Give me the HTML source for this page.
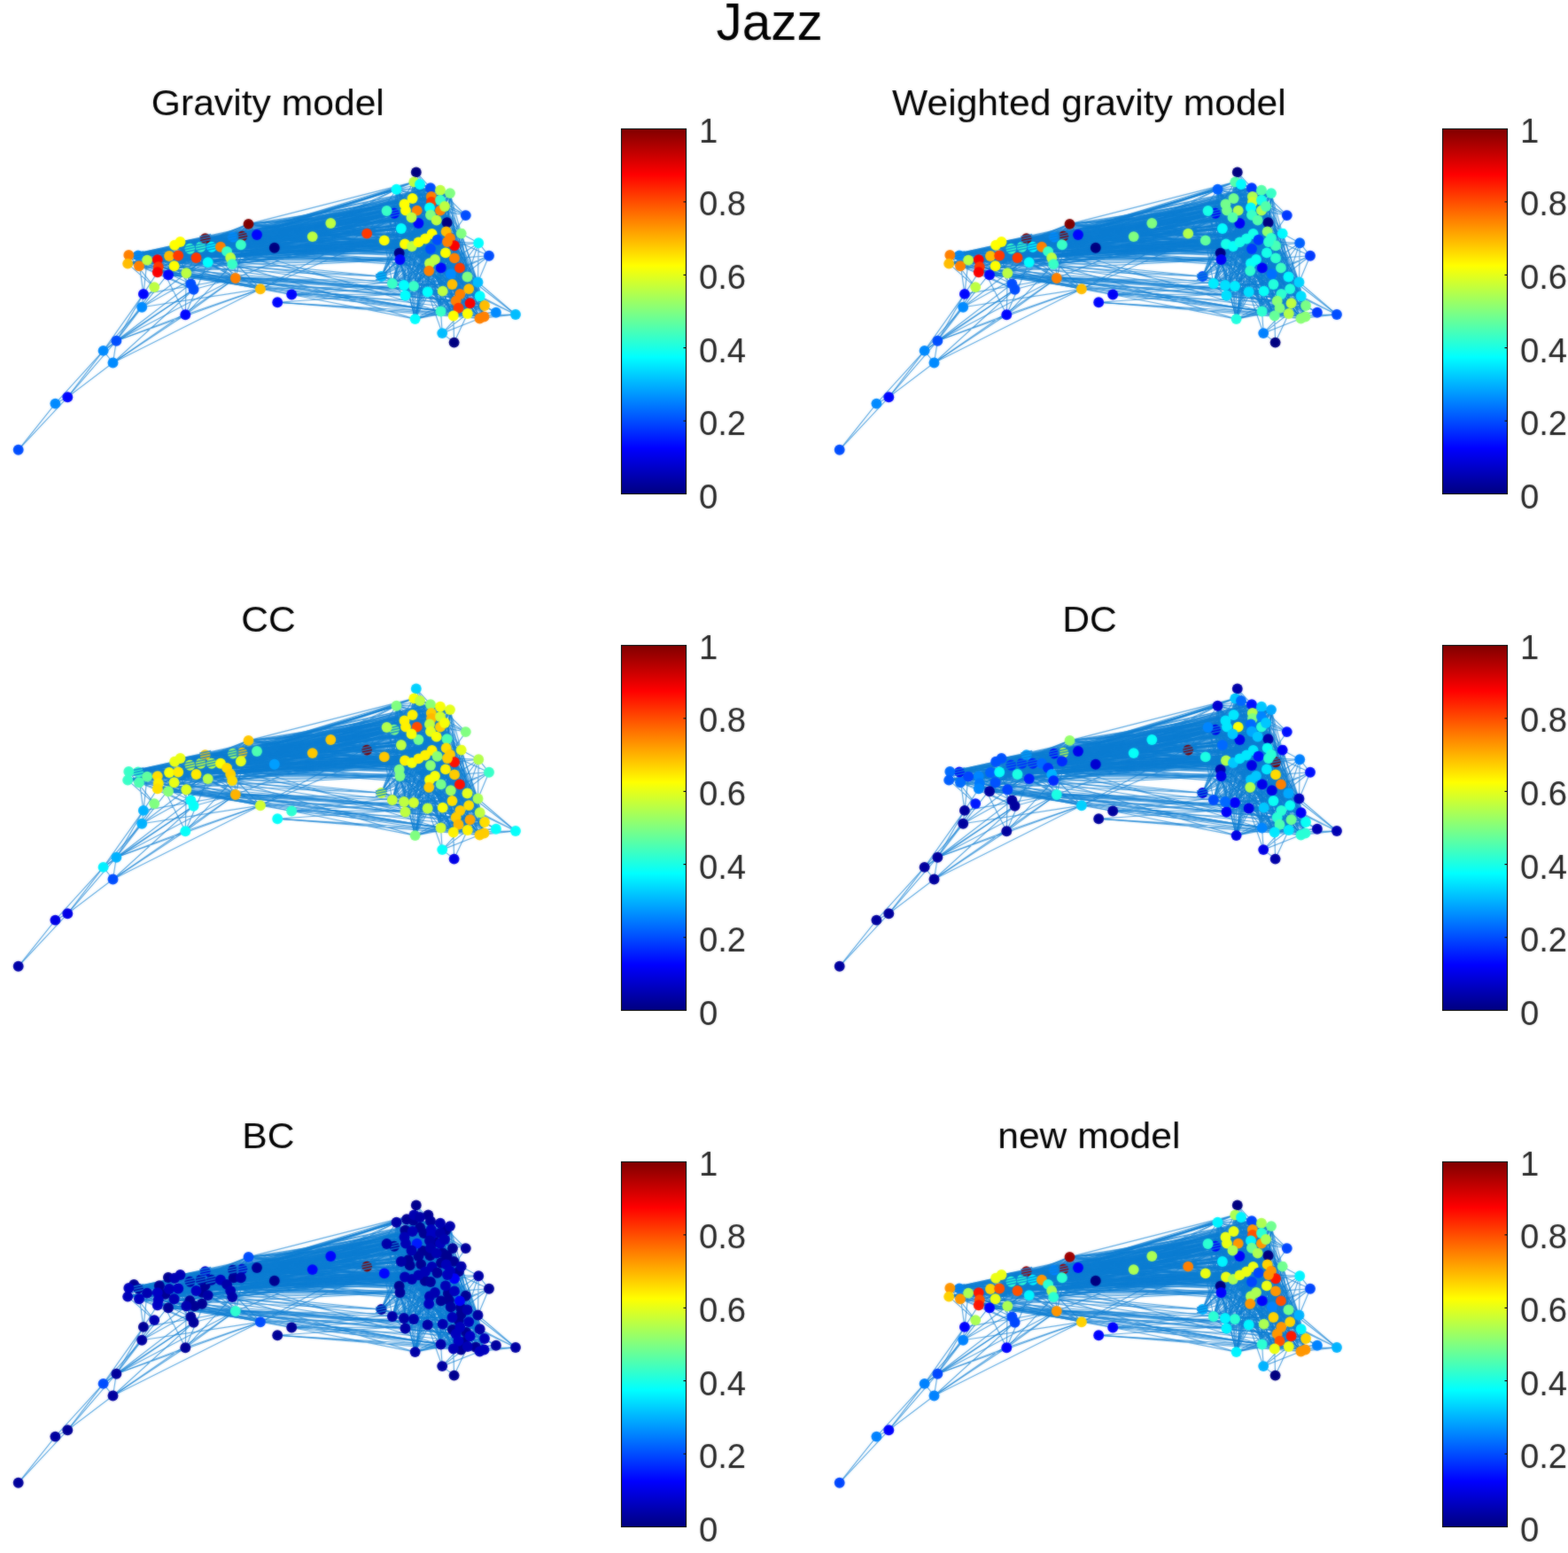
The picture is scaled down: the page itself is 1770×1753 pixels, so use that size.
<!DOCTYPE html>
<html lang="en"><head><meta charset="utf-8"><title>Jazz</title>
<style>html,body{margin:0;padding:0;background:#fff}svg{display:block}text{font-family:"Liberation Sans",Arial,Helvetica,sans-serif}</style></head><body>
<svg width="1770" height="1753" viewBox="0 0 1770 1753">
<defs>
<linearGradient id="jet" x1="0" y1="0" x2="0" y2="1"><stop offset="0.0000" stop-color="#800000"/><stop offset="0.0625" stop-color="#bf0000"/><stop offset="0.1250" stop-color="#ff0000"/><stop offset="0.1875" stop-color="#ff4000"/><stop offset="0.2500" stop-color="#ff8000"/><stop offset="0.3125" stop-color="#ffbf00"/><stop offset="0.3750" stop-color="#ffff00"/><stop offset="0.4375" stop-color="#bfff40"/><stop offset="0.5000" stop-color="#80ff80"/><stop offset="0.5625" stop-color="#40ffbf"/><stop offset="0.6250" stop-color="#00ffff"/><stop offset="0.6875" stop-color="#00bfff"/><stop offset="0.7500" stop-color="#0080ff"/><stop offset="0.8125" stop-color="#0040ff"/><stop offset="0.8750" stop-color="#0000ff"/><stop offset="0.9375" stop-color="#0000bf"/><stop offset="1.0000" stop-color="#000080"/></linearGradient>
<g id="edges" fill="none" stroke="#0a7cd2" stroke-opacity="0.68" stroke-width="1.15">
<path d="M76.3 448.3L116.6 395.9M131.4 384.7L160.2 346.8M131.4 384.7L218.6 326.8M131.4 384.7L174.2 324.1M161.9 331.9L177.8 307.3M215.4 320.5L145.3 288.0M145.3 288.0L465.6 224.0M145.3 288.0L487.6 264.0M145.3 288.0L457.0 275.5M144.2 297.6L231.7 269.2M144.2 297.6L293.9 326.2M144.2 297.6L414.2 263.6M144.2 297.6L470.7 237.6M155.9 288.5L249.0 278.8M155.9 288.5L433.8 271.4M155.9 288.5L497.0 214.7M155.9 288.5L497.0 226.0M157.0 300.2L178.8 301.2M157.0 300.2L177.8 307.3M166.1 293.6L178.8 301.2M177.8 293.1L262.2 298.1M178.8 301.2L231.7 269.2M178.8 301.2L329.2 332.5M178.8 301.2L203.5 273.0M177.8 307.3L457.5 333.5M177.8 307.3L546.5 357.5M197.1 276.8L231.7 269.2M197.1 276.8L238.8 278.8M197.1 276.8L373.3 252.0M197.1 276.8L450.7 285.8M197.1 276.8L465.0 278.0M191.0 289.0L238.8 278.8M191.0 289.0L290.0 265.0M191.0 289.0L497.0 237.6M191.0 289.0L513.0 277.2M191.0 289.0L502.9 285.4M191.0 289.0L486.0 281.0M201.2 288.5L210.3 308.3M201.2 288.5L249.0 278.8M201.2 288.5L480.0 269.5M196.6 300.2L238.8 278.8M196.6 300.2L290.0 265.0M196.6 300.2L541.5 359.5M190.0 310.3L265.8 314.0M210.3 308.3L231.7 269.2M214.4 280.8L486.8 222.0M214.4 280.8L520.7 263.6M221.5 291.0L234.7 296.1M221.5 291.0L487.6 264.0M221.5 291.0L486.0 281.0M226.6 278.8L271.9 276.3M234.7 296.1L352.7 267.1M238.8 278.8L273.4 266.6M238.8 278.8L465.6 224.0M249.0 278.8L433.8 271.4M249.0 278.8L452.9 258.0M249.0 278.8L480.0 269.5M256.1 283.9L280.5 252.9M256.1 283.9L445.0 240.8M260.2 291.0L464.5 245.5M273.4 266.6L414.2 263.6M273.4 266.6L445.0 240.8M290.0 265.0L497.0 214.7M309.8 279.8L470.7 237.6M309.8 279.8L493.6 270.7M293.9 326.2L458.0 237.6M329.2 332.5L508.8 309.2M329.2 332.5L467.0 323.0M352.7 267.1L486.8 222.0M352.7 267.1L263.0 267.6M373.3 252.0L203.5 273.0M414.2 263.6L480.0 269.5M433.8 271.4L486.0 242.7M433.8 271.4L484.2 305.8M436.6 238.0L450.7 285.8M436.6 238.0L487.0 228.0M436.6 238.0L514.7 339.7M436.6 238.0L517.5 347.8M436.6 238.0L456.5 230.5M436.6 238.0L464.5 245.5M445.0 240.8L450.7 285.8M445.0 240.8L486.0 212.2M445.0 240.8L529.2 326.1M447.5 213.8L450.7 285.8M447.5 213.8L486.8 222.0M447.5 213.8L472.4 252.0M447.5 213.8L457.0 275.5M447.5 213.8L527.5 312.5M447.5 213.8L529.2 326.1M447.5 213.8L547.0 345.0M450.7 285.8L452.9 258.0M452.9 258.0L485.0 234.5M452.9 258.0L472.4 252.0M452.9 258.0L485.0 297.3M452.9 258.0L547.0 345.0M452.9 258.0L497.0 226.0M467.3 205.4L520.7 263.6M467.3 205.4L484.2 305.8M474.0 208.0L497.0 214.7M474.0 208.0L486.8 222.0M486.0 212.2L465.0 278.0M486.0 212.2L505.0 273.0M497.0 214.7L546.5 357.5M497.0 214.7L203.5 273.0M497.0 214.7L480.0 269.5M508.0 218.1L458.0 237.6M508.0 218.1L485.0 234.5M508.0 218.1L520.7 263.6M465.6 224.0L513.0 291.4M465.6 224.0L456.5 230.5M465.6 224.0L464.5 245.5M465.6 224.0L502.0 233.0M486.8 222.0L470.7 237.6M486.8 222.0L497.0 237.6M486.8 222.0L484.2 305.8M486.8 222.0L530.6 342.2M486.8 222.0L430.5 312.0M487.0 228.0L472.4 273.4M487.0 228.0L513.0 291.4M487.0 228.0L527.5 312.5M487.0 228.0L464.5 245.5M487.0 228.0L497.0 226.0M458.0 237.6L470.7 237.6M458.0 237.6L497.0 237.6M470.7 237.6L492.7 248.6M470.7 237.6L493.6 270.7M470.7 237.6L430.5 312.0M485.0 234.5L457.0 275.5M485.0 234.5L530.6 342.2M497.0 237.6L457.0 275.5M497.0 237.6L456.0 322.0M486.0 242.7L465.0 278.0M486.0 242.7L502.0 233.0M492.7 248.6L472.4 273.4M492.7 248.6L546.5 357.5M525.8 243.1L502.0 233.0M472.4 252.0L547.0 345.0M504.6 251.2L493.6 270.7M487.6 264.0L510.5 321.0M487.6 264.0L499.7 328.6M487.6 264.0L468.6 360.1M508.0 268.7L480.0 269.5M520.7 263.6L484.2 305.8M520.7 263.6L547.0 345.0M457.0 275.5L513.0 291.4M457.0 275.5L263.0 267.6M465.0 278.0L472.4 273.4M465.0 278.0L517.5 347.8M465.0 278.0L430.5 312.0M472.4 273.4L486.0 281.0M472.4 273.4L497.0 226.0M493.6 270.7L497.0 226.0M513.0 277.2L497.6 351.5M513.0 277.2L468.6 360.1M502.9 285.4L484.2 305.8M502.9 285.4L464.5 245.5M513.0 291.4L527.5 312.5M491.0 293.0L457.5 333.5M484.2 305.8L467.0 323.0M484.2 305.8L514.7 339.7M519.0 302.4L527.8 354.0M508.8 309.2L480.0 269.5M510.5 321.0L442.9 320.0M457.5 333.5L514.7 339.7M519.3 332.0L456.5 230.5M519.3 332.0L480.0 269.5M519.3 332.0L502.0 233.0M529.2 326.1L505.0 273.0M541.7 334.2L468.6 360.1M547.0 345.0L527.8 354.0M547.0 345.0L468.6 360.1M547.0 345.0L430.5 312.0M517.5 347.8L497.6 351.5M517.5 347.8L497.0 226.0M511.8 356.5L559.9 352.8M541.5 359.5L451.5 293.0M541.5 359.5L486.0 281.0"/>
<path d="M76.3 448.3L127.5 409.5M131.4 384.7L161.9 331.9M161.9 331.9L166.1 293.6M145.3 288.0L144.2 297.6M145.3 288.0L197.1 276.8M145.3 288.0L221.5 291.0M145.3 288.0L256.1 283.9M145.3 288.0L290.0 265.0M145.3 288.0L472.4 252.0M144.2 297.6L352.7 267.1M144.2 297.6L373.3 252.0M144.2 297.6L480.0 269.5M166.1 293.6L177.8 293.1M166.1 293.6L487.0 228.0M166.1 293.6L458.0 237.6M166.1 293.6L472.4 273.4M177.8 293.1L234.7 296.1M177.8 293.1L458.0 237.6M177.8 307.3L290.0 265.0M177.8 307.3L499.7 328.6M197.1 276.8L273.4 266.6M197.1 276.8L486.8 222.0M197.1 276.8L456.5 230.5M197.1 276.8L480.0 269.5M191.0 289.0L464.5 245.5M201.2 288.5L231.7 269.2M201.2 288.5L262.2 298.1M201.2 288.5L436.6 238.0M201.2 288.5L456.5 230.5M196.6 300.2L214.4 280.8M190.0 310.3L514.7 339.7M210.3 308.3L263.0 267.6M214.4 280.8L290.0 265.0M214.4 280.8L445.0 240.8M214.4 280.8L465.6 224.0M214.4 280.8L472.4 273.4M214.4 280.8L513.0 277.2M221.5 291.0L486.0 242.7M221.5 291.0L457.0 275.5M221.5 291.0L263.0 267.6M226.6 278.8L256.1 283.9M226.6 278.8L260.2 291.0M226.6 278.8L447.5 213.8M226.6 278.8L497.0 226.0M231.7 269.2L465.6 224.0M238.8 278.8L373.3 252.0M238.8 278.8L492.7 248.6M249.0 278.8L487.0 228.0M249.0 278.8L486.0 242.7M249.0 278.8L465.0 278.0M249.0 278.8L451.5 293.0M256.1 283.9L485.0 234.5M256.1 283.9L486.0 281.0M256.1 283.9L480.0 269.5M260.2 291.0L293.9 326.2M260.2 291.0L486.0 212.2M260.2 291.0L503.7 261.4M260.2 291.0L472.4 273.4M262.2 298.1L467.0 323.0M262.2 298.1L468.6 360.1M271.9 276.3L485.0 234.5M271.9 276.3L504.6 251.2M271.9 276.3L263.0 267.6M273.4 266.6L487.6 264.0M273.4 266.6L502.9 285.4M280.5 252.9L265.8 314.0M280.5 252.9L352.7 267.1M280.5 252.9L436.6 238.0M309.8 279.8L263.0 267.6M293.9 326.2L510.5 321.0M313.2 341.3L546.5 357.5M329.2 332.5L527.8 354.0M352.7 267.1L472.4 273.4M352.7 267.1L464.5 245.5M373.3 252.0L447.5 213.8M373.3 252.0L513.0 291.4M414.2 263.6L474.0 208.0M414.2 263.6L504.6 251.2M436.6 238.0L497.0 237.6M445.0 240.8L492.7 248.6M445.0 240.8L497.8 302.4M445.0 240.8L457.5 333.5M447.5 213.8L497.0 214.7M447.5 213.8L470.7 237.6M447.5 213.8L504.6 251.2M447.5 213.8L493.6 270.7M450.7 285.8L470.7 237.6M450.7 285.8L465.0 278.0M452.9 258.0L508.0 268.7M452.9 258.0L457.0 275.5M452.9 258.0L502.0 233.0M469.8 194.4L486.0 212.2M467.3 205.4L486.0 212.2M467.3 205.4L485.0 234.5M467.3 205.4L497.8 302.4M474.0 208.0L486.0 212.2M474.0 208.0L465.6 224.0M474.0 208.0L487.0 228.0M474.0 208.0L504.6 251.2M474.0 208.0L508.0 268.7M474.0 208.0L499.7 328.6M486.0 212.2L465.6 224.0M486.0 212.2L503.7 261.4M486.0 212.2L519.0 302.4M486.0 212.2L527.8 354.0M486.0 212.2L203.5 273.0M497.0 214.7L485.0 234.5M497.0 214.7L464.5 245.5M508.0 218.1L457.5 333.5M508.0 218.1L464.5 245.5M486.8 222.0L203.5 273.0M458.0 237.6L493.6 270.7M458.0 237.6L502.9 285.4M470.7 237.6L485.0 297.3M470.7 237.6L457.5 333.5M470.7 237.6L530.6 342.2M497.0 237.6L499.7 328.6M497.0 237.6L517.5 347.8M497.0 237.6L511.8 356.5M497.0 237.6L468.6 360.1M497.0 237.6L456.5 230.5M492.7 248.6L456.5 230.5M472.4 252.0L520.7 263.6M472.4 252.0L513.0 277.2M472.4 252.0L457.5 333.5M472.4 252.0L505.0 273.0M504.6 251.2L503.7 261.4M487.6 264.0L527.8 354.0M487.6 264.0L464.5 245.5M503.7 261.4L502.9 285.4M508.0 268.7L520.7 263.6M508.0 268.7L505.0 273.0M520.7 263.6L442.9 320.0M520.7 263.6L464.5 245.5M457.0 275.5L519.3 332.0M457.0 275.5L464.5 245.5M465.0 278.0L513.0 277.2M472.4 273.4L513.0 291.4M472.4 273.4L514.7 339.7M472.4 273.4L430.5 312.0M493.6 270.7L451.5 293.0M493.6 270.7L456.0 322.0M493.6 270.7L486.0 281.0M493.6 270.7L505.0 273.0M513.0 277.2L513.0 291.4M513.0 277.2L514.7 339.7M513.0 277.2L263.0 267.6M502.9 285.4L442.9 320.0M502.9 285.4L541.7 334.2M491.0 293.0L514.7 339.7M484.2 305.8L457.5 333.5M497.8 302.4L547.0 345.0M497.8 302.4L502.0 233.0M519.0 302.4L451.5 293.0M527.5 312.5L480.0 269.5M510.5 321.0L499.7 328.6M510.5 321.0L527.8 354.0M510.5 321.0L541.5 359.5M510.5 321.0L582.0 355.0M499.7 328.6L529.2 326.1M499.7 328.6L456.5 230.5M482.7 329.5L467.0 323.0M467.0 323.0L442.9 320.0M467.0 323.0L457.5 333.5M467.0 323.0L480.0 269.5M442.9 320.0L451.5 293.0M514.7 339.7L517.5 347.8M514.7 339.7L505.0 273.0M530.6 342.2L497.6 351.5M530.6 342.2L505.0 273.0M541.7 334.2L497.6 351.5M541.7 334.2L582.0 355.0M541.7 334.2L430.5 312.0M547.0 345.0L511.8 356.5M517.5 347.8L511.8 356.5M497.6 351.5L468.6 360.1M497.6 351.5L497.0 226.0M541.5 359.5L499.2 376.1M430.5 312.0L480.0 269.5M451.5 293.0L480.0 269.5M486.0 281.0L464.5 245.5M456.5 230.5L502.0 233.0M480.0 269.5L497.0 226.0"/>
<path d="M20.7 507.8L76.3 448.3M116.6 395.9L131.4 384.7M116.6 395.9L161.9 331.9M131.4 384.7L209.3 355.3M160.2 346.8L293.9 326.2M161.9 331.9L265.8 314.0M174.2 324.1L145.3 288.0M145.3 288.0L508.0 218.1M144.2 297.6L487.0 228.0M144.2 297.6L457.0 275.5M155.9 288.5L452.9 258.0M157.0 300.2L256.1 283.9M157.0 300.2L280.5 252.9M166.1 293.6L214.4 280.8M166.1 293.6L436.6 238.0M166.1 293.6L465.0 278.0M177.8 293.1L445.0 240.8M177.8 293.1L485.0 234.5M178.8 301.2L256.1 283.9M197.1 276.8L309.8 279.8M197.1 276.8L492.7 248.6M191.0 289.0L201.2 288.5M191.0 289.0L231.7 269.2M191.0 289.0L513.0 291.4M201.2 288.5L290.0 265.0M201.2 288.5L464.5 245.5M196.6 300.2L221.5 291.0M190.0 310.3L263.0 267.6M214.4 280.8L486.0 242.7M214.4 280.8L464.5 245.5M226.6 278.8L373.3 252.0M226.6 278.8L452.9 258.0M231.7 269.2L290.0 265.0M231.7 269.2L450.7 285.8M231.7 269.2L486.0 212.2M231.7 269.2L508.0 218.1M231.7 269.2L486.0 242.7M231.7 269.2L472.4 252.0M231.7 269.2L513.0 291.4M234.7 296.1L486.0 242.7M234.7 296.1L263.0 267.6M238.8 278.8L464.5 245.5M249.0 278.8L260.2 291.0M249.0 278.8L447.5 213.8M249.0 278.8L486.0 212.2M256.1 283.9L497.8 302.4M262.2 298.1L433.8 271.4M262.2 298.1L447.5 213.8M262.2 298.1L485.0 234.5M262.2 298.1L480.0 269.5M271.9 276.3L433.8 271.4M271.9 276.3L470.7 237.6M271.9 276.3L493.6 270.7M273.4 266.6L433.8 271.4M273.4 266.6L203.5 273.0M280.5 252.9L450.7 285.8M280.5 252.9L487.0 228.0M280.5 252.9L458.0 237.6M280.5 252.9L472.4 273.4M280.5 252.9L502.9 285.4M265.8 314.0L539.5 318.5M313.2 341.3L529.2 326.1M313.2 341.3L527.8 354.0M352.7 267.1L465.0 278.0M414.2 263.6L465.6 224.0M433.8 271.4L470.7 237.6M433.8 271.4L457.5 333.5M433.8 271.4L456.5 230.5M436.6 238.0L474.0 208.0M436.6 238.0L465.6 224.0M436.6 238.0L485.0 234.5M436.6 238.0L504.6 251.2M436.6 238.0L529.2 326.1M445.0 240.8L493.6 270.7M447.5 213.8L519.3 332.0M450.7 285.8L486.0 242.7M450.7 285.8L527.5 312.5M450.7 285.8L519.3 332.0M452.9 258.0L467.3 205.4M452.9 258.0L497.0 237.6M452.9 258.0L492.7 248.6M467.3 205.4L472.4 273.4M467.3 205.4L493.6 270.7M467.3 205.4L502.0 233.0M497.0 214.7L487.6 264.0M497.0 214.7L456.5 230.5M497.0 214.7L497.0 226.0M508.0 218.1L519.0 302.4M508.0 218.1L505.0 273.0M465.6 224.0L485.0 234.5M465.6 224.0L505.0 273.0M465.6 224.0L497.0 226.0M486.8 222.0L458.0 237.6M486.8 222.0L529.2 326.1M487.0 228.0L510.5 321.0M487.0 228.0L457.5 333.5M487.0 228.0L263.0 267.6M487.0 228.0L480.0 269.5M458.0 237.6L520.7 263.6M458.0 237.6L465.0 278.0M458.0 237.6L513.0 277.2M458.0 237.6L451.5 293.0M458.0 237.6L497.0 226.0M470.7 237.6L508.8 309.2M485.0 234.5L492.7 248.6M497.0 237.6L465.0 278.0M486.0 242.7L502.9 285.4M486.0 242.7L485.0 297.3M486.0 242.7L541.5 359.5M486.0 242.7L203.5 273.0M486.0 242.7L464.5 245.5M492.7 248.6L504.6 251.2M492.7 248.6L493.6 270.7M492.7 248.6L513.0 277.2M492.7 248.6L547.0 345.0M492.7 248.6L497.6 351.5M492.7 248.6L430.5 312.0M525.8 243.1L497.0 226.0M472.4 252.0L493.6 270.7M472.4 252.0L491.0 293.0M472.4 252.0L519.0 302.4M472.4 252.0L451.5 293.0M504.6 251.2L263.0 267.6M487.6 264.0L457.0 275.5M487.6 264.0L513.0 277.2M487.6 264.0L519.0 302.4M487.6 264.0L547.0 345.0M487.6 264.0L486.0 281.0M503.7 261.4L527.5 312.5M503.7 261.4L505.0 273.0M508.0 268.7L510.5 321.0M508.0 268.7L430.5 312.0M457.0 275.5L511.8 356.5M465.0 278.0L493.6 270.7M472.4 273.4L527.5 312.5M472.4 273.4L541.5 359.5M493.6 270.7L491.0 293.0M493.6 270.7L510.5 321.0M513.0 277.2L456.0 322.0M540.2 274.2L505.0 273.0M502.9 285.4L467.0 323.0M502.9 285.4L486.0 281.0M513.0 291.4L464.5 245.5M491.0 293.0L486.0 281.0M491.0 293.0L497.0 226.0M485.0 297.3L511.8 356.5M485.0 297.3L486.0 281.0M484.2 305.8L530.6 342.2M497.8 302.4L457.5 333.5M497.8 302.4L451.5 293.0M519.0 302.4L539.5 318.5M519.0 302.4L467.0 323.0M527.5 312.5L530.6 342.2M539.5 318.5L529.2 326.1M539.5 318.5L546.5 357.5M510.5 321.0L529.2 326.1M510.5 321.0L541.7 334.2M482.7 329.5L541.7 334.2M482.7 329.5L511.8 356.5M467.0 323.0L530.6 342.2M442.9 320.0L480.0 269.5M457.5 333.5L519.3 332.0M457.5 333.5L430.5 312.0M519.3 332.0L486.0 281.0M519.3 332.0L505.0 273.0M529.2 326.1L547.0 345.0M514.7 339.7L527.8 354.0M530.6 342.2L517.5 347.8M530.6 342.2L456.0 322.0M530.6 342.2L480.0 269.5M541.7 334.2L546.5 357.5M547.0 345.0L517.5 347.8M547.0 345.0L541.5 359.5M511.8 356.5L505.0 273.0M430.5 312.0L505.0 273.0M203.5 273.0L456.5 230.5M263.0 267.6L486.0 281.0M456.0 322.0L456.5 230.5"/>
<path d="M20.7 507.8L62.4 455.6M127.5 409.5L131.4 384.7M127.5 409.5L209.3 355.3M116.6 395.9L160.2 346.8M209.3 355.3L210.3 308.3M218.6 326.8L196.6 300.2M145.3 288.0L155.9 288.5M145.3 288.0L502.0 233.0M144.2 297.6L433.8 271.4M155.9 288.5L197.1 276.8M166.1 293.6L231.7 269.2M166.1 293.6L256.1 283.9M166.1 293.6L503.7 261.4M166.1 293.6L430.5 312.0M177.8 293.1L177.8 307.3M177.8 293.1L293.9 326.2M178.8 301.2L293.9 326.2M178.8 301.2L451.5 293.0M177.8 307.3L262.2 298.1M177.8 307.3L482.7 329.5M177.8 307.3L451.5 293.0M197.1 276.8L352.7 267.1M197.1 276.8L203.5 273.0M197.1 276.8L263.0 267.6M191.0 289.0L190.0 310.3M191.0 289.0L497.0 214.7M201.2 288.5L451.5 293.0M190.0 310.3L482.7 329.5M190.0 310.3L442.9 320.0M190.0 310.3L511.8 356.5M214.4 280.8L472.4 252.0M226.6 278.8L238.8 278.8M226.6 278.8L450.7 285.8M226.6 278.8L467.3 205.4M231.7 269.2L262.2 298.1M231.7 269.2L493.6 270.7M231.7 269.2L203.5 273.0M234.7 296.1L265.8 314.0M234.7 296.1L486.0 212.2M234.7 296.1L457.0 275.5M234.7 296.1L502.0 233.0M238.8 278.8L485.0 234.5M238.8 278.8L486.0 242.7M238.8 278.8L487.6 264.0M238.8 278.8L457.0 275.5M238.8 278.8L465.0 278.0M256.1 283.9L497.0 237.6M273.4 266.6L486.0 212.2M280.5 252.9L467.3 205.4M280.5 252.9L520.7 263.6M280.5 252.9L486.0 281.0M309.8 279.8L508.0 268.7M309.8 279.8L486.0 281.0M265.8 314.0L497.6 351.5M265.8 314.0L263.0 267.6M293.9 326.2L329.2 332.5M329.2 332.5L530.6 342.2M373.3 252.0L445.0 240.8M373.3 252.0L458.0 237.6M373.3 252.0L492.7 248.6M414.2 263.6L497.0 214.7M414.2 263.6L508.0 268.7M433.8 271.4L491.0 293.0M433.8 271.4L497.8 302.4M433.8 271.4L451.5 293.0M433.8 271.4L464.5 245.5M436.6 238.0L480.0 269.5M445.0 240.8L486.8 222.0M445.0 240.8L470.7 237.6M445.0 240.8L457.0 275.5M445.0 240.8L464.5 245.5M447.5 213.8L497.6 351.5M447.5 213.8L468.6 360.1M450.7 285.8L203.5 273.0M452.9 258.0L513.0 277.2M469.8 194.4L467.3 205.4M467.3 205.4L472.4 252.0M467.3 205.4L487.6 264.0M467.3 205.4L482.7 329.5M467.3 205.4L541.7 334.2M467.3 205.4L527.8 354.0M467.3 205.4L468.6 360.1M474.0 208.0L485.0 234.5M474.0 208.0L497.8 302.4M486.0 212.2L487.6 264.0M486.0 212.2L519.3 332.0M486.0 212.2L486.0 281.0M486.0 212.2L456.5 230.5M497.0 214.7L508.0 218.1M497.0 214.7L525.8 243.1M497.0 214.7L520.7 263.6M497.0 214.7L472.4 273.4M497.0 214.7L482.7 329.5M508.0 218.1L486.0 242.7M508.0 218.1L504.6 251.2M508.0 218.1L502.9 285.4M508.0 218.1L480.0 269.5M465.6 224.0L465.0 278.0M465.6 224.0L456.0 322.0M486.8 222.0L486.0 242.7M486.8 222.0L514.7 339.7M486.8 222.0L502.0 233.0M487.0 228.0L499.7 328.6M470.7 237.6L520.7 263.6M470.7 237.6L505.0 273.0M485.0 234.5L467.0 323.0M497.0 237.6L519.3 332.0M497.0 237.6L529.2 326.1M486.0 242.7L513.0 291.4M492.7 248.6L497.8 302.4M492.7 248.6L451.5 293.0M472.4 252.0L519.3 332.0M472.4 252.0L486.0 281.0M504.6 251.2L497.0 226.0M487.6 264.0L497.8 302.4M503.7 261.4L539.5 318.5M508.0 268.7L472.4 273.4M508.0 268.7L513.0 291.4M520.7 263.6L508.8 309.2M520.7 263.6L499.7 328.6M520.7 263.6L529.2 326.1M457.0 275.5L451.5 293.0M465.0 278.0L508.8 309.2M465.0 278.0L547.0 345.0M465.0 278.0L505.0 273.0M472.4 273.4L519.0 302.4M472.4 273.4L442.9 320.0M493.6 270.7L467.0 323.0M513.0 277.2L510.5 321.0M513.0 277.2L457.5 333.5M513.0 277.2L451.5 293.0M513.0 277.2L486.0 281.0M540.2 274.2L497.8 302.4M540.2 274.2L519.0 302.4M552.0 288.8L539.5 318.5M502.9 285.4L508.8 309.2M502.9 285.4L510.5 321.0M502.9 285.4L541.5 359.5M513.0 291.4L491.0 293.0M513.0 291.4L510.5 321.0M513.0 291.4L527.8 354.0M491.0 293.0L541.7 334.2M491.0 293.0L541.5 359.5M485.0 297.3L484.2 305.8M485.0 297.3L442.9 320.0M485.0 297.3L457.5 333.5M485.0 297.3L514.7 339.7M484.2 305.8L468.6 360.1M519.0 302.4L546.5 357.5M527.5 312.5L497.6 351.5M527.5 312.5L451.5 293.0M539.5 318.5L480.0 269.5M510.5 321.0L519.3 332.0M499.7 328.6L451.5 293.0M499.7 328.6L480.0 269.5M482.7 329.5L499.2 376.1M482.7 329.5L430.5 312.0M482.7 329.5L456.0 322.0M467.0 323.0L505.0 273.0M529.2 326.1L541.7 334.2M529.2 326.1L527.8 354.0M514.7 339.7L547.0 345.0M514.7 339.7L486.0 281.0M517.5 347.8L468.6 360.1M527.8 354.0L499.2 376.1M527.8 354.0L456.5 230.5M511.8 356.5L512.6 386.6M511.8 356.5L456.5 230.5M541.5 359.5L546.5 357.5M546.5 357.5L582.0 355.0M468.6 360.1L451.5 293.0M468.6 360.1L502.0 233.0M456.0 322.0L464.5 245.5"/>
<path d="M127.5 409.5L116.6 395.9M131.4 384.7L215.4 320.5M131.4 384.7L265.8 314.0M209.3 355.3L234.7 296.1M209.3 355.3L265.8 314.0M215.4 320.5L210.3 308.3M145.3 288.0L166.1 293.6M145.3 288.0L177.8 293.1M145.3 288.0L487.0 228.0M145.3 288.0L502.9 285.4M144.2 297.6L290.0 265.0M144.2 297.6L445.0 240.8M144.2 297.6L486.0 212.2M144.2 297.6L505.0 273.0M155.9 288.5L191.0 289.0M155.9 288.5L190.0 310.3M155.9 288.5L210.3 308.3M155.9 288.5L504.6 251.2M157.0 300.2L201.2 288.5M157.0 300.2L234.7 296.1M157.0 300.2L541.7 334.2M157.0 300.2L430.5 312.0M166.1 293.6L226.6 278.8M166.1 293.6L249.0 278.8M166.1 293.6L203.5 273.0M177.8 293.1L465.6 224.0M177.8 293.1L472.4 273.4M177.8 293.1L513.0 277.2M178.8 301.2L197.1 276.8M177.8 307.3L214.4 280.8M177.8 307.3L492.7 248.6M197.1 276.8L265.8 314.0M197.1 276.8L503.7 261.4M191.0 289.0L221.5 291.0M191.0 289.0L433.8 271.4M191.0 289.0L487.0 228.0M201.2 288.5L485.0 234.5M201.2 288.5L492.7 248.6M190.0 310.3L457.5 333.5M210.3 308.3L499.7 328.6M221.5 291.0L493.6 270.7M221.5 291.0L430.5 312.0M226.6 278.8L487.6 264.0M231.7 269.2L520.7 263.6M231.7 269.2L456.5 230.5M234.7 296.1L280.5 252.9M234.7 296.1L293.9 326.2M234.7 296.1L414.2 263.6M238.8 278.8L503.7 261.4M238.8 278.8L513.0 291.4M249.0 278.8L436.6 238.0M249.0 278.8L203.5 273.0M249.0 278.8L464.5 245.5M256.1 283.9L456.5 230.5M260.2 291.0L445.0 240.8M260.2 291.0L485.0 234.5M260.2 291.0L492.7 248.6M262.2 298.1L290.0 265.0M271.9 276.3L290.0 265.0M271.9 276.3L465.6 224.0M273.4 266.6L280.5 252.9M273.4 266.6L290.0 265.0M273.4 266.6L452.9 258.0M280.5 252.9L290.0 265.0M290.0 265.0L445.0 240.8M290.0 265.0L486.0 212.2M290.0 265.0L203.5 273.0M309.8 279.8L445.0 240.8M293.9 326.2L203.5 273.0M414.2 263.6L502.9 285.4M433.8 271.4L487.6 264.0M433.8 271.4L467.0 323.0M445.0 240.8L547.0 345.0M445.0 240.8L511.8 356.5M445.0 240.8L263.0 267.6M445.0 240.8L505.0 273.0M450.7 285.8L487.0 228.0M450.7 285.8L497.0 237.6M450.7 285.8L502.0 233.0M467.3 205.4L474.0 208.0M467.3 205.4L519.3 332.0M474.0 208.0L472.4 252.0M486.0 212.2L487.0 228.0M486.0 212.2L484.2 305.8M497.0 214.7L486.0 242.7M497.0 214.7L468.6 360.1M508.0 218.1L487.0 228.0M508.0 218.1L487.6 264.0M508.0 218.1L497.8 302.4M508.0 218.1L529.2 326.1M465.6 224.0L486.8 222.0M465.6 224.0L492.7 248.6M465.6 224.0L493.6 270.7M465.6 224.0L513.0 277.2M465.6 224.0L263.0 267.6M486.8 222.0L541.7 334.2M486.8 222.0L480.0 269.5M486.8 222.0L497.0 226.0M487.0 228.0L457.0 275.5M487.0 228.0L456.5 230.5M458.0 237.6L457.0 275.5M458.0 237.6L517.5 347.8M458.0 237.6L527.8 354.0M458.0 237.6L430.5 312.0M470.7 237.6L472.4 273.4M470.7 237.6L510.5 321.0M470.7 237.6L442.9 320.0M470.7 237.6L497.0 226.0M485.0 234.5L491.0 293.0M497.0 237.6L504.6 251.2M497.0 237.6L491.0 293.0M497.0 237.6L486.0 281.0M497.0 237.6L502.0 233.0M486.0 242.7L503.7 261.4M486.0 242.7L457.0 275.5M492.7 248.6L491.0 293.0M472.4 252.0L503.7 261.4M472.4 252.0L484.2 305.8M504.6 251.2L517.5 347.8M487.6 264.0L508.0 268.7M487.6 264.0L465.0 278.0M487.6 264.0L484.2 305.8M503.7 261.4L513.0 277.2M503.7 261.4L456.5 230.5M503.7 261.4L464.5 245.5M503.7 261.4L480.0 269.5M508.0 268.7L485.0 297.3M508.0 268.7L508.8 309.2M520.7 263.6L513.0 291.4M457.0 275.5L485.0 297.3M465.0 278.0L514.7 339.7M472.4 273.4L499.7 328.6M472.4 273.4L482.7 329.5M493.6 270.7L527.5 312.5M493.6 270.7L541.7 334.2M493.6 270.7L511.8 356.5M513.0 277.2L505.0 273.0M540.2 274.2L527.5 312.5M502.9 285.4L519.0 302.4M513.0 291.4L497.0 226.0M513.0 291.4L502.0 233.0M491.0 293.0L467.0 323.0M491.0 293.0L468.6 360.1M485.0 297.3L502.0 233.0M484.2 305.8L527.8 354.0M519.0 302.4L499.7 328.6M508.8 309.2L527.5 312.5M508.8 309.2L539.5 318.5M508.8 309.2L517.5 347.8M527.5 312.5L582.0 355.0M499.7 328.6L457.5 333.5M499.7 328.6L511.8 356.5M499.7 328.6L456.0 322.0M482.7 329.5L547.0 345.0M482.7 329.5L546.5 357.5M482.7 329.5L486.0 281.0M457.5 333.5L517.5 347.8M519.3 332.0L527.8 354.0M519.3 332.0L559.9 352.8M519.3 332.0L541.5 359.5M529.2 326.1L456.5 230.5M530.6 342.2L547.0 345.0M530.6 342.2L456.5 230.5M541.7 334.2L502.0 233.0M547.0 345.0L497.6 351.5M541.5 359.5L582.0 355.0M468.6 360.1L480.0 269.5M430.5 312.0L464.5 245.5M451.5 293.0L497.0 226.0M456.0 322.0L486.0 281.0M486.0 281.0L456.5 230.5"/>
<path d="M62.4 455.6L76.3 448.3M161.9 331.9L155.9 288.5M218.6 326.8L177.8 307.3M218.6 326.8L265.8 314.0M174.2 324.1L144.2 297.6M145.3 288.0L273.4 266.6M145.3 288.0L472.4 273.4M144.2 297.6L497.0 237.6M144.2 297.6L486.0 242.7M144.2 297.6L508.0 268.7M155.9 288.5L234.7 296.1M155.9 288.5L265.8 314.0M155.9 288.5L487.0 228.0M155.9 288.5L470.7 237.6M155.9 288.5L472.4 252.0M157.0 300.2L191.0 289.0M157.0 300.2L238.8 278.8M157.0 300.2L271.9 276.3M157.0 300.2L290.0 265.0M157.0 300.2L293.9 326.2M166.1 293.6L352.7 267.1M166.1 293.6L504.6 251.2M166.1 293.6L487.6 264.0M166.1 293.6L513.0 291.4M177.8 293.1L414.2 263.6M177.8 293.1L486.8 222.0M177.8 293.1L470.7 237.6M177.8 293.1L456.5 230.5M177.8 307.3L234.7 296.1M197.1 276.8L486.0 242.7M197.1 276.8L519.0 302.4M191.0 289.0L472.4 273.4M201.2 288.5L280.5 252.9M201.2 288.5L414.2 263.6M201.2 288.5L447.5 213.8M201.2 288.5L497.0 237.6M201.2 288.5L263.0 267.6M196.6 300.2L271.9 276.3M196.6 300.2L263.0 267.6M190.0 310.3L214.4 280.8M210.3 308.3L234.7 296.1M210.3 308.3L249.0 278.8M214.4 280.8L497.0 214.7M221.5 291.0L352.7 267.1M226.6 278.8L273.4 266.6M226.6 278.8L465.0 278.0M226.6 278.8L457.5 333.5M231.7 269.2L511.8 356.5M234.7 296.1L472.4 252.0M234.7 296.1L530.6 342.2M249.0 278.8L467.3 205.4M249.0 278.8L505.0 273.0M256.1 283.9L271.9 276.3M256.1 283.9L486.0 212.2M256.1 283.9L497.0 214.7M256.1 283.9L203.5 273.0M260.2 291.0L508.0 218.1M260.2 291.0L465.6 224.0M260.2 291.0L520.7 263.6M260.2 291.0L456.5 230.5M262.2 298.1L486.0 242.7M262.2 298.1L505.0 273.0M271.9 276.3L497.8 302.4M273.4 266.6L508.0 218.1M273.4 266.6L458.0 237.6M273.4 266.6L520.7 263.6M290.0 265.0L452.9 258.0M290.0 265.0L502.9 285.4M329.2 332.5L519.3 332.0M352.7 267.1L487.0 228.0M352.7 267.1L470.7 237.6M352.7 267.1L492.7 248.6M352.7 267.1L504.6 251.2M352.7 267.1L497.0 226.0M373.3 252.0L457.0 275.5M433.8 271.4L508.0 268.7M433.8 271.4L520.7 263.6M433.8 271.4L472.4 273.4M433.8 271.4L442.9 320.0M436.6 238.0L468.6 360.1M445.0 240.8L513.0 277.2M445.0 240.8L519.0 302.4M447.5 213.8L467.3 205.4M447.5 213.8L474.0 208.0M447.5 213.8L486.0 212.2M447.5 213.8L546.5 357.5M447.5 213.8L263.0 267.6M447.5 213.8L502.0 233.0M450.7 285.8L484.2 305.8M450.7 285.8L442.9 320.0M450.7 285.8L514.7 339.7M450.7 285.8L497.0 226.0M452.9 258.0L472.4 273.4M452.9 258.0L456.5 230.5M452.9 258.0L464.5 245.5M469.8 194.4L486.8 222.0M467.3 205.4L546.5 357.5M474.0 208.0L541.7 334.2M486.0 212.2L482.7 329.5M486.0 212.2L442.9 320.0M486.0 212.2L497.6 351.5M486.0 212.2L480.0 269.5M486.0 212.2L497.0 226.0M497.0 214.7L504.6 251.2M497.0 214.7L510.5 321.0M508.0 218.1L465.0 278.0M465.6 224.0L458.0 237.6M465.6 224.0L472.4 273.4M465.6 224.0L467.0 323.0M465.6 224.0L451.5 293.0M486.8 222.0L465.0 278.0M486.8 222.0L493.6 270.7M486.8 222.0L541.5 359.5M487.0 228.0L465.0 278.0M487.0 228.0L203.5 273.0M458.0 237.6L508.0 268.7M458.0 237.6L539.5 318.5M458.0 237.6L486.0 281.0M470.7 237.6L513.0 291.4M470.7 237.6L497.6 351.5M485.0 234.5L486.0 242.7M485.0 234.5L508.0 268.7M485.0 234.5L468.6 360.1M497.0 237.6L486.0 242.7M472.4 252.0L539.5 318.5M472.4 252.0L527.8 354.0M472.4 252.0L502.0 233.0M504.6 251.2L465.0 278.0M504.6 251.2L513.0 277.2M487.6 264.0L485.0 297.3M503.7 261.4L465.0 278.0M503.7 261.4L508.8 309.2M503.7 261.4L467.0 323.0M503.7 261.4L541.7 334.2M503.7 261.4L430.5 312.0M503.7 261.4L203.5 273.0M503.7 261.4L263.0 267.6M503.7 261.4L456.0 322.0M508.0 268.7L552.0 288.8M508.0 268.7L511.8 356.5M520.7 263.6L519.3 332.0M457.0 275.5L502.9 285.4M457.0 275.5L519.0 302.4M457.0 275.5L527.5 312.5M457.0 275.5L442.9 320.0M457.0 275.5L541.5 359.5M457.0 275.5L486.0 281.0M465.0 278.0L442.9 320.0M465.0 278.0L451.5 293.0M465.0 278.0L480.0 269.5M472.4 273.4L493.6 270.7M472.4 273.4L456.5 230.5M493.6 270.7L480.0 269.5M493.6 270.7L502.0 233.0M513.0 277.2L527.5 312.5M513.0 277.2L499.7 328.6M513.0 277.2L497.0 226.0M540.2 274.2L539.5 318.5M552.0 288.8L513.0 291.4M552.0 288.8L519.0 302.4M552.0 288.8L508.8 309.2M502.9 285.4L451.5 293.0M502.9 285.4L505.0 273.0M513.0 291.4L530.6 342.2M491.0 293.0L485.0 297.3M491.0 293.0L519.3 332.0M485.0 297.3L519.3 332.0M484.2 305.8L482.7 329.5M497.8 302.4L539.5 318.5M497.8 302.4L541.5 359.5M497.8 302.4L464.5 245.5M519.0 302.4L527.5 312.5M519.0 302.4L541.7 334.2M519.0 302.4L511.8 356.5M508.8 309.2L457.5 333.5M527.5 312.5L510.5 321.0M527.5 312.5L457.5 333.5M539.5 318.5L510.5 321.0M539.5 318.5L511.8 356.5M539.5 318.5L502.0 233.0M499.7 328.6L482.7 329.5M499.7 328.6L541.5 359.5M482.7 329.5L457.5 333.5M482.7 329.5L527.8 354.0M482.7 329.5L480.0 269.5M482.7 329.5L505.0 273.0M442.9 320.0L529.2 326.1M442.9 320.0L456.0 322.0M457.5 333.5L456.5 230.5M529.2 326.1L546.5 357.5M514.7 339.7L541.7 334.2M530.6 342.2L499.2 376.1M547.0 345.0L486.0 281.0M547.0 345.0L497.0 226.0M517.5 347.8L527.8 354.0M527.8 354.0L559.9 352.8M511.8 356.5L582.0 355.0M497.6 351.5L451.5 293.0M541.5 359.5L497.0 226.0M456.0 322.0L505.0 273.0"/>
<path d="M127.5 409.5L293.9 326.2M116.6 395.9L218.6 326.8M160.2 346.8L161.9 331.9M160.2 346.8L196.6 300.2M160.2 346.8L210.3 308.3M209.3 355.3L262.2 298.1M209.3 355.3L293.9 326.2M218.6 326.8L157.0 300.2M218.6 326.8L201.2 288.5M145.3 288.0L436.6 238.0M145.3 288.0L497.0 237.6M145.3 288.0L486.0 242.7M145.3 288.0L465.0 278.0M144.2 297.6L436.6 238.0M144.2 297.6L472.4 273.4M144.2 297.6L493.6 270.7M144.2 297.6L491.0 293.0M155.9 288.5L157.0 300.2M155.9 288.5L201.2 288.5M155.9 288.5L290.0 265.0M155.9 288.5L436.6 238.0M157.0 300.2L263.0 267.6M166.1 293.6L447.5 213.8M177.8 293.1L504.6 251.2M177.8 293.1L505.0 273.0M178.8 301.2L210.3 308.3M178.8 301.2L221.5 291.0M178.8 301.2L249.0 278.8M178.8 301.2L497.6 351.5M197.1 276.8L190.0 310.3M197.1 276.8L445.0 240.8M191.0 289.0L280.5 252.9M191.0 289.0L470.7 237.6M201.2 288.5L487.0 228.0M201.2 288.5L458.0 237.6M201.2 288.5L486.0 281.0M201.2 288.5L497.0 226.0M196.6 300.2L280.5 252.9M196.6 300.2L465.0 278.0M190.0 310.3L234.7 296.1M190.0 310.3L238.8 278.8M190.0 310.3L517.5 347.8M190.0 310.3L497.6 351.5M214.4 280.8L433.8 271.4M214.4 280.8L504.6 251.2M214.4 280.8L203.5 273.0M226.6 278.8L472.4 252.0M226.6 278.8L493.6 270.7M226.6 278.8L456.5 230.5M231.7 269.2L249.0 278.8M231.7 269.2L273.4 266.6M231.7 269.2L373.3 252.0M231.7 269.2L452.9 258.0M234.7 296.1L262.2 298.1M234.7 296.1L452.9 258.0M234.7 296.1L486.0 281.0M238.8 278.8L447.5 213.8M249.0 278.8L497.0 214.7M256.1 283.9L508.0 218.1M256.1 283.9L486.8 222.0M256.1 283.9L493.6 270.7M256.1 283.9L505.0 273.0M271.9 276.3L280.5 252.9M271.9 276.3L502.9 285.4M273.4 266.6L373.3 252.0M273.4 266.6L470.7 237.6M280.5 252.9L508.0 218.1M280.5 252.9L465.6 224.0M280.5 252.9L497.0 237.6M290.0 265.0L485.0 234.5M290.0 265.0L503.7 261.4M373.3 252.0L485.0 234.5M414.2 263.6L447.5 213.8M414.2 263.6L486.0 242.7M414.2 263.6L487.6 264.0M433.8 271.4L450.7 285.8M433.8 271.4L513.0 291.4M436.6 238.0L486.0 212.2M436.6 238.0L511.8 356.5M436.6 238.0L486.0 281.0M445.0 240.8L447.5 213.8M445.0 240.8L452.9 258.0M445.0 240.8L472.4 252.0M447.5 213.8L458.0 237.6M450.7 285.8L467.3 205.4M450.7 285.8L458.0 237.6M450.7 285.8L503.7 261.4M450.7 285.8L493.6 270.7M450.7 285.8L508.8 309.2M450.7 285.8L482.7 329.5M450.7 285.8L468.6 360.1M452.9 258.0L508.0 218.1M469.8 194.4L474.0 208.0M467.3 205.4L497.6 351.5M474.0 208.0L502.9 285.4M474.0 208.0L486.0 281.0M486.0 212.2L504.6 251.2M486.0 212.2L430.5 312.0M497.0 214.7L465.6 224.0M497.0 214.7L527.5 312.5M497.0 214.7L467.0 323.0M497.0 214.7L547.0 345.0M508.0 218.1L508.0 268.7M508.0 218.1L497.6 351.5M465.6 224.0L487.0 228.0M465.6 224.0L486.0 242.7M486.8 222.0L517.5 347.8M487.0 228.0L508.0 268.7M487.0 228.0L485.0 297.3M487.0 228.0L529.2 326.1M458.0 237.6L487.6 264.0M458.0 237.6L485.0 297.3M470.7 237.6L504.6 251.2M470.7 237.6L519.3 332.0M485.0 234.5L472.4 252.0M485.0 234.5L487.6 264.0M497.0 237.6L525.8 243.1M497.0 237.6L493.6 270.7M497.0 237.6L539.5 318.5M497.0 237.6L480.0 269.5M486.0 242.7L505.0 273.0M492.7 248.6L457.0 275.5M492.7 248.6L486.0 281.0M492.7 248.6L497.0 226.0M525.8 243.1L508.0 268.7M472.4 252.0L527.5 312.5M504.6 251.2L491.0 293.0M504.6 251.2L480.0 269.5M487.6 264.0L467.0 323.0M487.6 264.0L502.0 233.0M508.0 268.7L484.2 305.8M520.7 263.6L457.0 275.5M520.7 263.6L540.2 274.2M520.7 263.6L527.5 312.5M520.7 263.6L539.5 318.5M520.7 263.6L505.0 273.0M520.7 263.6L502.0 233.0M457.0 275.5L510.5 321.0M465.0 278.0L529.2 326.1M472.4 273.4L484.2 305.8M472.4 273.4L451.5 293.0M472.4 273.4L505.0 273.0M493.6 270.7L499.7 328.6M493.6 270.7L442.9 320.0M493.6 270.7L527.8 354.0M513.0 277.2L502.9 285.4M513.0 277.2L539.5 318.5M513.0 277.2L519.3 332.0M513.0 277.2L480.0 269.5M502.9 285.4L497.8 302.4M502.9 285.4L517.5 347.8M513.0 291.4L508.8 309.2M513.0 291.4L442.9 320.0M513.0 291.4L547.0 345.0M485.0 297.3L497.6 351.5M485.0 297.3L430.5 312.0M484.2 305.8L511.8 356.5M484.2 305.8L505.0 273.0M497.8 302.4L510.5 321.0M497.8 302.4L497.6 351.5M508.8 309.2L530.6 342.2M508.8 309.2L505.0 273.0M527.5 312.5L499.7 328.6M527.5 312.5L486.0 281.0M539.5 318.5L582.0 355.0M539.5 318.5L505.0 273.0M510.5 321.0L456.0 322.0M499.7 328.6L467.0 323.0M482.7 329.5L530.6 342.2M519.3 332.0L514.7 339.7M519.3 332.0L541.7 334.2M519.3 332.0L547.0 345.0M519.3 332.0L468.6 360.1M519.3 332.0L497.0 226.0M530.6 342.2L541.7 334.2M541.7 334.2L451.5 293.0M547.0 345.0L559.9 352.8M517.5 347.8L456.0 322.0M511.8 356.5L502.0 233.0M497.6 351.5L546.5 357.5M497.6 351.5L499.2 376.1M541.5 359.5L456.0 322.0M468.6 360.1L505.0 273.0M499.2 376.1L512.6 386.6"/>
<path d="M62.4 455.6L116.6 395.9M76.3 448.3L131.4 384.7M127.5 409.5L218.6 326.8M127.5 409.5L265.8 314.0M131.4 384.7L293.9 326.2M160.2 346.8L260.2 291.0M209.3 355.3L177.8 293.1M145.3 288.0L226.6 278.8M145.3 288.0L231.7 269.2M144.2 297.6L513.0 277.2M155.9 288.5L458.0 237.6M155.9 288.5L451.5 293.0M157.0 300.2L214.4 280.8M166.1 293.6L457.0 275.5M166.1 293.6L451.5 293.0M177.8 293.1L457.5 333.5M178.8 301.2L467.3 205.4M177.8 307.3L197.1 276.8M197.1 276.8L271.9 276.3M197.1 276.8L457.0 275.5M191.0 289.0L249.0 278.8M191.0 289.0L508.0 268.7M201.2 288.5L234.7 296.1M201.2 288.5L271.9 276.3M196.6 300.2L273.4 266.6M190.0 310.3L210.3 308.3M190.0 310.3L262.2 298.1M210.3 308.3L464.5 245.5M214.4 280.8L485.0 234.5M221.5 291.0L465.0 278.0M226.6 278.8L487.0 228.0M231.7 269.2L414.2 263.6M231.7 269.2L458.0 237.6M231.7 269.2L470.7 237.6M231.7 269.2L497.0 237.6M234.7 296.1L436.6 238.0M234.7 296.1L203.5 273.0M234.7 296.1L505.0 273.0M238.8 278.8L249.0 278.8M238.8 278.8L265.8 314.0M238.8 278.8L486.8 222.0M256.1 283.9L262.2 298.1M256.1 283.9L458.0 237.6M256.1 283.9L508.0 268.7M260.2 291.0L352.7 267.1M260.2 291.0L487.0 228.0M260.2 291.0L203.5 273.0M262.2 298.1L472.4 273.4M271.9 276.3L436.6 238.0M271.9 276.3L508.0 218.1M273.4 266.6L447.5 213.8M273.4 266.6L504.6 251.2M273.4 266.6L465.0 278.0M290.0 265.0L470.7 237.6M290.0 265.0L464.5 245.5M309.8 279.8L458.0 237.6M265.8 314.0L445.0 240.8M265.8 314.0L499.7 328.6M293.9 326.2L486.0 242.7M313.2 341.3L541.5 359.5M329.2 332.5L468.6 360.1M373.3 252.0L503.7 261.4M414.2 263.6L492.7 248.6M414.2 263.6L472.4 252.0M414.2 263.6L493.6 270.7M414.2 263.6L502.0 233.0M433.8 271.4L445.0 240.8M433.8 271.4L458.0 237.6M433.8 271.4L497.0 237.6M433.8 271.4L465.0 278.0M433.8 271.4L511.8 356.5M436.6 238.0L487.6 264.0M436.6 238.0L467.0 323.0M436.6 238.0L546.5 357.5M445.0 240.8L467.3 205.4M445.0 240.8L503.7 261.4M445.0 240.8L451.5 293.0M445.0 240.8L486.0 281.0M447.5 213.8L514.7 339.7M447.5 213.8L451.5 293.0M447.5 213.8L497.0 226.0M450.7 285.8L451.5 293.0M450.7 285.8L486.0 281.0M450.7 285.8L480.0 269.5M452.9 258.0L487.0 228.0M452.9 258.0L487.6 264.0M452.9 258.0L430.5 312.0M452.9 258.0L451.5 293.0M467.3 205.4L497.0 214.7M467.3 205.4L464.5 245.5M474.0 208.0L457.0 275.5M474.0 208.0L442.9 320.0M474.0 208.0L464.5 245.5M486.0 212.2L485.0 234.5M486.0 212.2L493.6 270.7M486.0 212.2L541.7 334.2M497.0 214.7L470.7 237.6M497.0 214.7L493.6 270.7M497.0 214.7L442.9 320.0M497.0 214.7L527.8 354.0M508.0 218.1L470.7 237.6M508.0 218.1L503.7 261.4M508.0 218.1L472.4 273.4M508.0 218.1L519.3 332.0M508.0 218.1L486.0 281.0M508.0 218.1L497.0 226.0M465.6 224.0L472.4 252.0M465.6 224.0L487.6 264.0M465.6 224.0L508.8 309.2M486.8 222.0L457.0 275.5M486.8 222.0L457.5 333.5M486.8 222.0L456.5 230.5M487.0 228.0L503.7 261.4M458.0 237.6L485.0 234.5M458.0 237.6L492.7 248.6M458.0 237.6L504.6 251.2M458.0 237.6L541.7 334.2M458.0 237.6L547.0 345.0M458.0 237.6L511.8 356.5M470.7 237.6L503.7 261.4M470.7 237.6L465.0 278.0M470.7 237.6L484.2 305.8M470.7 237.6L456.5 230.5M470.7 237.6L464.5 245.5M497.0 237.6L482.7 329.5M486.0 242.7L492.7 248.6M486.0 242.7L487.6 264.0M486.0 242.7L491.0 293.0M486.0 242.7L480.0 269.5M472.4 252.0L456.0 322.0M504.6 251.2L487.6 264.0M504.6 251.2L472.4 273.4M504.6 251.2L502.9 285.4M504.6 251.2L541.7 334.2M504.6 251.2L546.5 357.5M504.6 251.2L464.5 245.5M503.7 261.4L491.0 293.0M503.7 261.4L485.0 297.3M503.7 261.4L529.2 326.1M508.0 268.7L527.5 312.5M508.0 268.7L547.0 345.0M508.0 268.7L456.5 230.5M520.7 263.6L486.0 281.0M457.0 275.5L482.7 329.5M457.0 275.5L529.2 326.1M465.0 278.0L464.5 245.5M465.0 278.0L497.0 226.0M472.4 273.4L508.8 309.2M493.6 270.7L502.9 285.4M493.6 270.7L485.0 297.3M493.6 270.7L464.5 245.5M513.0 277.2L540.2 274.2M513.0 277.2L456.5 230.5M540.2 274.2L552.0 288.8M552.0 288.8L510.5 321.0M502.9 285.4L527.5 312.5M502.9 285.4L529.2 326.1M502.9 285.4L497.0 226.0M491.0 293.0L456.0 322.0M485.0 297.3L467.0 323.0M484.2 305.8L508.8 309.2M484.2 305.8L519.3 332.0M484.2 305.8L529.2 326.1M484.2 305.8L497.6 351.5M497.8 302.4L508.8 309.2M497.8 302.4L482.7 329.5M519.0 302.4L482.7 329.5M519.0 302.4L457.5 333.5M519.0 302.4L517.5 347.8M527.5 312.5L467.0 323.0M539.5 318.5L541.5 359.5M539.5 318.5L486.0 281.0M510.5 321.0L457.5 333.5M499.7 328.6L527.8 354.0M482.7 329.5L442.9 320.0M467.0 323.0L497.0 226.0M457.5 333.5L530.6 342.2M519.3 332.0L529.2 326.1M514.7 339.7L497.0 226.0M541.7 334.2L456.5 230.5M541.7 334.2L464.5 245.5M527.8 354.0L511.8 356.5M527.8 354.0L512.6 386.6M527.8 354.0L430.5 312.0M468.6 360.1L456.5 230.5M451.5 293.0L464.5 245.5M203.5 273.0L480.0 269.5M464.5 245.5L502.0 233.0M497.0 226.0L502.0 233.0"/>
</g>
<path id="cover" d="M225.2 267.4L238.2 264.6M225.2 270.2L238.2 267.4M225.2 273.2L238.2 270.4M266.9 264.8L279.9 262.0M266.9 267.6L279.9 264.8M266.9 270.6L279.9 267.8M220.1 277.0L233.1 274.2M220.1 279.8L233.1 277.0M220.1 282.8L233.1 280.0M232.3 277.0L245.3 274.2M232.3 279.8L245.3 277.0M232.3 282.8L245.3 280.0M207.9 279.0L220.9 276.2M207.9 281.8L220.9 279.0M207.9 284.8L220.9 282.0M149.4 286.7L162.4 283.9M149.4 289.5L162.4 286.7M149.4 292.5L162.4 289.7M438.5 239.0L451.5 236.2M438.5 241.8L451.5 239.0M438.5 244.8L451.5 242.0M256.5 265.8L269.5 263.0M256.5 268.6L269.5 265.8M256.5 271.6L269.5 268.8M424.0 310.2L437.0 307.4M424.0 313.0L437.0 310.2M424.0 316.0L437.0 313.2" fill="none" stroke="#0a80d8" stroke-opacity="0.8" stroke-width="1.7"/>
<g id="cbar"><rect x="701.5" y="145.5" width="73" height="412" fill="url(#jet)" stroke="#1a1a1a" stroke-width="1.2"/>
<path d="M774.5 475.1h-3M774.5 392.7h-3M774.5 310.3h-3M774.5 227.9h-3" stroke="#1a1a1a" stroke-width="1.2" fill="none"/></g>
<filter id="tsoft" x="0" y="0" width="1770" height="1753" filterUnits="userSpaceOnUse" color-interpolation-filters="sRGB"><feGaussianBlur stdDeviation="0.8" result="b"/><feComposite in="SourceGraphic" in2="b" operator="arithmetic" k1="0" k2="0.6" k3="0.4" k4="0"/></filter><filter id="soft" x="0" y="0" width="1770" height="1753" filterUnits="userSpaceOnUse" color-interpolation-filters="sRGB"><feGaussianBlur stdDeviation="0.8" result="b"/><feComposite in="SourceGraphic" in2="b" operator="arithmetic" k1="0" k2="0.5" k3="0.5" k4="0"/></filter>
</defs>
<rect width="100%" height="100%" fill="#fff"/>
<g filter="url(#soft)">
<g transform="translate(0.0 0.0)">
<use href="#edges"/>
<g><circle cx="155.9" cy="288.5" r="5.95" fill="#008aff"/><circle cx="214.4" cy="280.8" r="5.95" fill="#38ffc7"/><circle cx="226.6" cy="278.8" r="5.95" fill="#38ffc7"/><circle cx="231.7" cy="269.2" r="5.95" fill="#800000"/><circle cx="238.8" cy="278.8" r="5.95" fill="#00ffff"/><circle cx="273.4" cy="266.6" r="5.95" fill="#800000"/><circle cx="445.0" cy="240.8" r="5.95" fill="#0005ff"/><circle cx="430.5" cy="312.0" r="5.95" fill="#00bdff"/><circle cx="263.0" cy="267.6" r="5.95" fill="#008aff"/></g>
<use href="#cover"/>
<g><circle cx="20.7" cy="507.8" r="5.95" fill="#004dff"/><circle cx="62.4" cy="455.6" r="5.95" fill="#008aff"/><circle cx="76.3" cy="448.3" r="5.95" fill="#0005ff"/><circle cx="127.5" cy="409.5" r="5.95" fill="#008aff"/><circle cx="116.6" cy="395.9" r="5.95" fill="#008aff"/><circle cx="131.4" cy="384.7" r="5.95" fill="#004dff"/><circle cx="160.2" cy="346.8" r="5.95" fill="#008aff"/><circle cx="161.9" cy="331.9" r="5.95" fill="#0005ff"/><circle cx="209.3" cy="355.3" r="5.95" fill="#0005ff"/><circle cx="218.6" cy="326.8" r="5.95" fill="#004dff"/><circle cx="215.4" cy="320.5" r="5.95" fill="#004dff"/><circle cx="174.2" cy="324.1" r="5.95" fill="#bdff42"/><circle cx="145.3" cy="288.0" r="5.95" fill="#ff8000"/><circle cx="144.2" cy="297.6" r="5.95" fill="#ffbd00"/><circle cx="157.0" cy="300.2" r="5.95" fill="#ff8000"/><circle cx="166.1" cy="293.6" r="5.95" fill="#bdff42"/><circle cx="177.8" cy="293.1" r="5.95" fill="#fa0000"/><circle cx="178.8" cy="301.2" r="5.95" fill="#ff3800"/><circle cx="177.8" cy="307.3" r="5.95" fill="#fa0000"/><circle cx="197.1" cy="276.8" r="5.95" fill="#ffff00"/><circle cx="191.0" cy="289.0" r="5.95" fill="#ffbd00"/><circle cx="201.2" cy="288.5" r="5.95" fill="#ff3800"/><circle cx="196.6" cy="300.2" r="5.95" fill="#ffff00"/><circle cx="190.0" cy="310.3" r="5.95" fill="#0005ff"/><circle cx="210.3" cy="308.3" r="5.95" fill="#bdff42"/><circle cx="221.5" cy="291.0" r="5.95" fill="#ff3800"/><circle cx="234.7" cy="296.1" r="5.95" fill="#00ffff"/><circle cx="249.0" cy="278.8" r="5.95" fill="#ff8000"/><circle cx="256.1" cy="283.9" r="5.95" fill="#38ffc7"/><circle cx="260.2" cy="291.0" r="5.95" fill="#bdff42"/><circle cx="262.2" cy="298.1" r="5.95" fill="#38ffc7"/><circle cx="271.9" cy="276.3" r="5.95" fill="#38ffc7"/><circle cx="280.5" cy="252.9" r="5.95" fill="#800000"/><circle cx="290.0" cy="265.0" r="5.95" fill="#0005ff"/><circle cx="309.8" cy="279.8" r="5.95" fill="#000080"/><circle cx="265.8" cy="314.0" r="5.95" fill="#ff8000"/><circle cx="293.9" cy="326.2" r="5.95" fill="#ffbd00"/><circle cx="313.2" cy="341.3" r="5.95" fill="#0005ff"/><circle cx="329.2" cy="332.5" r="5.95" fill="#0005ff"/><circle cx="352.7" cy="267.1" r="5.95" fill="#bdff42"/><circle cx="373.3" cy="252.0" r="5.95" fill="#bdff42"/><circle cx="414.2" cy="263.6" r="5.95" fill="#ff3800"/><circle cx="433.8" cy="271.4" r="5.95" fill="#ffff00"/><circle cx="436.6" cy="238.0" r="5.95" fill="#38ffc7"/><circle cx="447.5" cy="213.8" r="5.95" fill="#00ffff"/><circle cx="450.7" cy="285.8" r="5.95" fill="#000080"/><circle cx="452.9" cy="258.0" r="5.95" fill="#00ffff"/><circle cx="469.8" cy="194.4" r="5.95" fill="#000080"/><circle cx="467.3" cy="205.4" r="5.95" fill="#bdff42"/><circle cx="474.0" cy="208.0" r="5.95" fill="#00ffff"/><circle cx="486.0" cy="212.2" r="5.95" fill="#004dff"/><circle cx="497.0" cy="214.7" r="5.95" fill="#bdff42"/><circle cx="508.0" cy="218.1" r="5.95" fill="#80ff80"/><circle cx="465.6" cy="224.0" r="5.95" fill="#ffff00"/><circle cx="486.8" cy="222.0" r="5.95" fill="#ff8000"/><circle cx="487.0" cy="228.0" r="5.95" fill="#ff3800"/><circle cx="458.0" cy="237.6" r="5.95" fill="#ffff00"/><circle cx="470.7" cy="237.6" r="5.95" fill="#ff8000"/><circle cx="485.0" cy="234.5" r="5.95" fill="#00ffff"/><circle cx="497.0" cy="237.6" r="5.95" fill="#ff8000"/><circle cx="486.0" cy="242.7" r="5.95" fill="#80ff80"/><circle cx="492.7" cy="248.6" r="5.95" fill="#bdff42"/><circle cx="525.8" cy="243.1" r="5.95" fill="#004dff"/><circle cx="472.4" cy="252.0" r="5.95" fill="#0005ff"/><circle cx="504.6" cy="251.2" r="5.95" fill="#000080"/><circle cx="487.6" cy="264.0" r="5.95" fill="#ffff00"/><circle cx="503.7" cy="261.4" r="5.95" fill="#ffbd00"/><circle cx="508.0" cy="268.7" r="5.95" fill="#ff8000"/><circle cx="520.7" cy="263.6" r="5.95" fill="#80ff80"/><circle cx="457.0" cy="275.5" r="5.95" fill="#ffff00"/><circle cx="465.0" cy="278.0" r="5.95" fill="#bdff42"/><circle cx="472.4" cy="273.4" r="5.95" fill="#ffff00"/><circle cx="493.6" cy="270.7" r="5.95" fill="#004dff"/><circle cx="513.0" cy="277.2" r="5.95" fill="#fa0000"/><circle cx="540.2" cy="274.2" r="5.95" fill="#00ffff"/><circle cx="552.0" cy="288.8" r="5.95" fill="#004dff"/><circle cx="502.9" cy="285.4" r="5.95" fill="#ffff00"/><circle cx="513.0" cy="291.4" r="5.95" fill="#ff8000"/><circle cx="491.0" cy="293.0" r="5.95" fill="#bdff42"/><circle cx="485.0" cy="297.3" r="5.95" fill="#bdff42"/><circle cx="484.2" cy="305.8" r="5.95" fill="#ff8000"/><circle cx="497.8" cy="302.4" r="5.95" fill="#0005ff"/><circle cx="519.0" cy="302.4" r="5.95" fill="#ff3800"/><circle cx="508.8" cy="309.2" r="5.95" fill="#008aff"/><circle cx="527.5" cy="312.5" r="5.95" fill="#80ff80"/><circle cx="539.5" cy="318.5" r="5.95" fill="#00bdff"/><circle cx="510.5" cy="321.0" r="5.95" fill="#ffbd00"/><circle cx="499.7" cy="328.6" r="5.95" fill="#bdff42"/><circle cx="482.7" cy="329.5" r="5.95" fill="#00ffff"/><circle cx="467.0" cy="323.0" r="5.95" fill="#38ffc7"/><circle cx="442.9" cy="320.0" r="5.95" fill="#38ffc7"/><circle cx="457.5" cy="333.5" r="5.95" fill="#00ffff"/><circle cx="519.3" cy="332.0" r="5.95" fill="#ff8000"/><circle cx="529.2" cy="326.1" r="5.95" fill="#ffbd00"/><circle cx="514.7" cy="339.7" r="5.95" fill="#ff8000"/><circle cx="530.6" cy="342.2" r="5.95" fill="#fa0000"/><circle cx="541.7" cy="334.2" r="5.95" fill="#00ffff"/><circle cx="547.0" cy="345.0" r="5.95" fill="#ffbd00"/><circle cx="517.5" cy="347.8" r="5.95" fill="#ff3800"/><circle cx="527.8" cy="354.0" r="5.95" fill="#ffff00"/><circle cx="511.8" cy="356.5" r="5.95" fill="#ffff00"/><circle cx="497.6" cy="351.5" r="5.95" fill="#38ffc7"/><circle cx="559.9" cy="352.8" r="5.95" fill="#008aff"/><circle cx="541.5" cy="359.5" r="5.95" fill="#ff8000"/><circle cx="546.5" cy="357.5" r="5.95" fill="#ff8000"/><circle cx="582.0" cy="355.0" r="5.95" fill="#00bdff"/><circle cx="468.6" cy="360.1" r="5.95" fill="#00ffff"/><circle cx="499.2" cy="376.1" r="5.95" fill="#00bdff"/><circle cx="512.6" cy="386.6" r="5.95" fill="#000080"/><circle cx="451.5" cy="293.0" r="5.95" fill="#0005ff"/><circle cx="203.5" cy="273.0" r="5.95" fill="#ffff00"/><circle cx="456.0" cy="322.0" r="5.95" fill="#00ffff"/><circle cx="486.0" cy="281.0" r="5.95" fill="#004dff"/><circle cx="456.5" cy="230.5" r="5.95" fill="#ffff00"/><circle cx="464.5" cy="245.5" r="5.95" fill="#bdff42"/><circle cx="480.0" cy="269.5" r="5.95" fill="#ffff00"/><circle cx="505.0" cy="273.0" r="5.95" fill="#ff8000"/><circle cx="497.0" cy="226.0" r="5.95" fill="#38ffc7"/><circle cx="502.0" cy="233.0" r="5.95" fill="#bdff42"/></g>
</g>
<g transform="translate(927.0 0.0)">
<use href="#edges"/>
<g><circle cx="155.9" cy="288.5" r="5.95" fill="#008aff"/><circle cx="214.4" cy="280.8" r="5.95" fill="#38ffc7"/><circle cx="226.6" cy="278.8" r="5.95" fill="#38ffc7"/><circle cx="231.7" cy="269.2" r="5.95" fill="#800000"/><circle cx="238.8" cy="278.8" r="5.95" fill="#00ffff"/><circle cx="273.4" cy="266.6" r="5.95" fill="#800000"/><circle cx="445.0" cy="240.8" r="5.95" fill="#0000f7"/><circle cx="430.5" cy="312.0" r="5.95" fill="#004dff"/><circle cx="263.0" cy="267.6" r="5.95" fill="#008aff"/></g>
<use href="#cover"/>
<g><circle cx="20.7" cy="507.8" r="5.95" fill="#004dff"/><circle cx="62.4" cy="455.6" r="5.95" fill="#008aff"/><circle cx="76.3" cy="448.3" r="5.95" fill="#0005ff"/><circle cx="127.5" cy="409.5" r="5.95" fill="#008aff"/><circle cx="116.6" cy="395.9" r="5.95" fill="#008aff"/><circle cx="131.4" cy="384.7" r="5.95" fill="#004dff"/><circle cx="160.2" cy="346.8" r="5.95" fill="#008aff"/><circle cx="161.9" cy="331.9" r="5.95" fill="#0005ff"/><circle cx="209.3" cy="355.3" r="5.95" fill="#0005ff"/><circle cx="218.6" cy="326.8" r="5.95" fill="#004dff"/><circle cx="215.4" cy="320.5" r="5.95" fill="#004dff"/><circle cx="174.2" cy="324.1" r="5.95" fill="#bdff42"/><circle cx="145.3" cy="288.0" r="5.95" fill="#ff8000"/><circle cx="144.2" cy="297.6" r="5.95" fill="#ffbd00"/><circle cx="157.0" cy="300.2" r="5.95" fill="#ff8000"/><circle cx="166.1" cy="293.6" r="5.95" fill="#bdff42"/><circle cx="177.8" cy="293.1" r="5.95" fill="#fa0000"/><circle cx="178.8" cy="301.2" r="5.95" fill="#ff3800"/><circle cx="177.8" cy="307.3" r="5.95" fill="#fa0000"/><circle cx="197.1" cy="276.8" r="5.95" fill="#ffff00"/><circle cx="191.0" cy="289.0" r="5.95" fill="#ffbd00"/><circle cx="201.2" cy="288.5" r="5.95" fill="#ff3800"/><circle cx="196.6" cy="300.2" r="5.95" fill="#ffff00"/><circle cx="190.0" cy="310.3" r="5.95" fill="#0005ff"/><circle cx="210.3" cy="308.3" r="5.95" fill="#bdff42"/><circle cx="221.5" cy="291.0" r="5.95" fill="#ff3800"/><circle cx="234.7" cy="296.1" r="5.95" fill="#00ffff"/><circle cx="249.0" cy="278.8" r="5.95" fill="#ff8000"/><circle cx="256.1" cy="283.9" r="5.95" fill="#38ffc7"/><circle cx="260.2" cy="291.0" r="5.95" fill="#bdff42"/><circle cx="262.2" cy="298.1" r="5.95" fill="#38ffc7"/><circle cx="271.9" cy="276.3" r="5.95" fill="#38ffc7"/><circle cx="280.5" cy="252.9" r="5.95" fill="#800000"/><circle cx="290.0" cy="265.0" r="5.95" fill="#0005ff"/><circle cx="309.8" cy="279.8" r="5.95" fill="#000080"/><circle cx="265.8" cy="314.0" r="5.95" fill="#ff8000"/><circle cx="293.9" cy="326.2" r="5.95" fill="#ffbd00"/><circle cx="313.2" cy="341.3" r="5.95" fill="#0005ff"/><circle cx="329.2" cy="332.5" r="5.95" fill="#0000f7"/><circle cx="352.7" cy="267.1" r="5.95" fill="#80ff80"/><circle cx="373.3" cy="252.0" r="5.95" fill="#80ff80"/><circle cx="414.2" cy="263.6" r="5.95" fill="#b3ff4c"/><circle cx="433.8" cy="271.4" r="5.95" fill="#61ff9e"/><circle cx="436.6" cy="238.0" r="5.95" fill="#17ffe8"/><circle cx="447.5" cy="213.8" r="5.95" fill="#0061ff"/><circle cx="450.7" cy="285.8" r="5.95" fill="#000080"/><circle cx="452.9" cy="258.0" r="5.95" fill="#00fcff"/><circle cx="469.8" cy="194.4" r="5.95" fill="#000080"/><circle cx="467.3" cy="205.4" r="5.95" fill="#54ffab"/><circle cx="474.0" cy="208.0" r="5.95" fill="#00fcff"/><circle cx="486.0" cy="212.2" r="5.95" fill="#0038ff"/><circle cx="497.0" cy="214.7" r="5.95" fill="#54ffab"/><circle cx="508.0" cy="218.1" r="5.95" fill="#38ffc7"/><circle cx="465.6" cy="224.0" r="5.95" fill="#73ff8c"/><circle cx="486.8" cy="222.0" r="5.95" fill="#adff52"/><circle cx="487.0" cy="228.0" r="5.95" fill="#ceff31"/><circle cx="458.0" cy="237.6" r="5.95" fill="#73ff8c"/><circle cx="470.7" cy="237.6" r="5.95" fill="#adff52"/><circle cx="485.0" cy="234.5" r="5.95" fill="#00fcff"/><circle cx="497.0" cy="237.6" r="5.95" fill="#adff52"/><circle cx="486.0" cy="242.7" r="5.95" fill="#38ffc7"/><circle cx="492.7" cy="248.6" r="5.95" fill="#54ffab"/><circle cx="525.8" cy="243.1" r="5.95" fill="#0038ff"/><circle cx="472.4" cy="252.0" r="5.95" fill="#0000f7"/><circle cx="504.6" cy="251.2" r="5.95" fill="#000080"/><circle cx="487.6" cy="264.0" r="5.95" fill="#14ffeb"/><circle cx="503.7" cy="261.4" r="5.95" fill="#91ff6e"/><circle cx="508.0" cy="268.7" r="5.95" fill="#2effd1"/><circle cx="520.7" cy="263.6" r="5.95" fill="#00faff"/><circle cx="457.0" cy="275.5" r="5.95" fill="#14ffeb"/><circle cx="465.0" cy="278.0" r="5.95" fill="#07fff8"/><circle cx="472.4" cy="273.4" r="5.95" fill="#14ffeb"/><circle cx="493.6" cy="270.7" r="5.95" fill="#0038ff"/><circle cx="513.0" cy="277.2" r="5.95" fill="#48ffb7"/><circle cx="540.2" cy="274.2" r="5.95" fill="#0061ff"/><circle cx="552.0" cy="288.8" r="5.95" fill="#0038ff"/><circle cx="502.9" cy="285.4" r="5.95" fill="#14ffeb"/><circle cx="513.0" cy="291.4" r="5.95" fill="#2effd1"/><circle cx="491.0" cy="293.0" r="5.95" fill="#07fff8"/><circle cx="485.0" cy="297.3" r="5.95" fill="#07fff8"/><circle cx="484.2" cy="305.8" r="5.95" fill="#2effd1"/><circle cx="497.8" cy="302.4" r="5.95" fill="#0000f7"/><circle cx="519.0" cy="302.4" r="5.95" fill="#3cffc3"/><circle cx="508.8" cy="309.2" r="5.95" fill="#006fff"/><circle cx="527.5" cy="312.5" r="5.95" fill="#00faff"/><circle cx="539.5" cy="318.5" r="5.95" fill="#00d3ff"/><circle cx="510.5" cy="321.0" r="5.95" fill="#22ffdd"/><circle cx="499.7" cy="328.6" r="5.95" fill="#07fff8"/><circle cx="482.7" cy="329.5" r="5.95" fill="#00e0ff"/><circle cx="467.0" cy="323.0" r="5.95" fill="#00ecff"/><circle cx="442.9" cy="320.0" r="5.95" fill="#00ecff"/><circle cx="457.5" cy="333.5" r="5.95" fill="#00e0ff"/><circle cx="519.3" cy="332.0" r="5.95" fill="#2effd1"/><circle cx="529.2" cy="326.1" r="5.95" fill="#22ffdd"/><circle cx="514.7" cy="339.7" r="5.95" fill="#8aff75"/><circle cx="530.6" cy="342.2" r="5.95" fill="#bdff42"/><circle cx="541.7" cy="334.2" r="5.95" fill="#00e0ff"/><circle cx="547.0" cy="345.0" r="5.95" fill="#79ff86"/><circle cx="517.5" cy="347.8" r="5.95" fill="#80ff80"/><circle cx="527.8" cy="354.0" r="5.95" fill="#b3ff4c"/><circle cx="511.8" cy="356.5" r="5.95" fill="#66ff99"/><circle cx="497.6" cy="351.5" r="5.95" fill="#2effd1"/><circle cx="559.9" cy="352.8" r="5.95" fill="#0038ff"/><circle cx="541.5" cy="359.5" r="5.95" fill="#8aff75"/><circle cx="546.5" cy="357.5" r="5.95" fill="#8aff75"/><circle cx="582.0" cy="355.0" r="5.95" fill="#004dff"/><circle cx="468.6" cy="360.1" r="5.95" fill="#1fffe0"/><circle cx="499.2" cy="376.1" r="5.95" fill="#0080ff"/><circle cx="512.6" cy="386.6" r="5.95" fill="#000080"/><circle cx="451.5" cy="293.0" r="5.95" fill="#0000f7"/><circle cx="203.5" cy="273.0" r="5.95" fill="#ffff00"/><circle cx="456.0" cy="322.0" r="5.95" fill="#00e0ff"/><circle cx="486.0" cy="281.0" r="5.95" fill="#0038ff"/><circle cx="456.5" cy="230.5" r="5.95" fill="#73ff8c"/><circle cx="464.5" cy="245.5" r="5.95" fill="#54ffab"/><circle cx="480.0" cy="269.5" r="5.95" fill="#14ffeb"/><circle cx="505.0" cy="273.0" r="5.95" fill="#2effd1"/><circle cx="497.0" cy="226.0" r="5.95" fill="#17ffe8"/><circle cx="502.0" cy="233.0" r="5.95" fill="#54ffab"/></g>
</g>
<g transform="translate(0.0 583.0)">
<use href="#edges"/>
<g><circle cx="155.9" cy="288.5" r="5.95" fill="#38ffc7"/><circle cx="214.4" cy="280.8" r="5.95" fill="#c3ff3c"/><circle cx="226.6" cy="278.8" r="5.95" fill="#c3ff3c"/><circle cx="231.7" cy="269.2" r="5.95" fill="#ffc700"/><circle cx="238.8" cy="278.8" r="5.95" fill="#b8ff47"/><circle cx="273.4" cy="266.6" r="5.95" fill="#ffc700"/><circle cx="414.2" cy="263.6" r="5.95" fill="#800000"/><circle cx="445.0" cy="240.8" r="5.95" fill="#80ff80"/><circle cx="430.5" cy="312.0" r="5.95" fill="#c7ff38"/><circle cx="263.0" cy="267.6" r="5.95" fill="#a0ff5f"/></g>
<use href="#cover"/>
<path d="M407.7 261.8L420.7 259.0M407.7 264.6L420.7 261.8M407.7 267.6L420.7 264.8" fill="none" stroke="#0a80d8" stroke-opacity="0.8" stroke-width="1.7"/>
<g><circle cx="20.7" cy="507.8" r="5.95" fill="#0000a8"/><circle cx="62.4" cy="455.6" r="5.95" fill="#0000e6"/><circle cx="76.3" cy="448.3" r="5.95" fill="#0000e6"/><circle cx="127.5" cy="409.5" r="5.95" fill="#004dff"/><circle cx="116.6" cy="395.9" r="5.95" fill="#00f0ff"/><circle cx="131.4" cy="384.7" r="5.95" fill="#00b2ff"/><circle cx="160.2" cy="346.8" r="5.95" fill="#00b2ff"/><circle cx="161.9" cy="331.9" r="5.95" fill="#00b2ff"/><circle cx="209.3" cy="355.3" r="5.95" fill="#05fffa"/><circle cx="218.6" cy="326.8" r="5.95" fill="#05fffa"/><circle cx="215.4" cy="320.5" r="5.95" fill="#05fffa"/><circle cx="174.2" cy="324.1" r="5.95" fill="#80ff80"/><circle cx="145.3" cy="288.0" r="5.95" fill="#38ffc7"/><circle cx="144.2" cy="297.6" r="5.95" fill="#38ffc7"/><circle cx="157.0" cy="300.2" r="5.95" fill="#4dffb2"/><circle cx="166.1" cy="293.6" r="5.95" fill="#61ff9e"/><circle cx="177.8" cy="293.1" r="5.95" fill="#ffdf00"/><circle cx="178.8" cy="301.2" r="5.95" fill="#ffec00"/><circle cx="177.8" cy="307.3" r="5.95" fill="#ffdf00"/><circle cx="197.1" cy="276.8" r="5.95" fill="#ebff14"/><circle cx="191.0" cy="289.0" r="5.95" fill="#f8ff07"/><circle cx="201.2" cy="288.5" r="5.95" fill="#ffec00"/><circle cx="196.6" cy="300.2" r="5.95" fill="#ebff14"/><circle cx="190.0" cy="310.3" r="5.95" fill="#86ff79"/><circle cx="210.3" cy="308.3" r="5.95" fill="#ddff22"/><circle cx="221.5" cy="291.0" r="5.95" fill="#ffec00"/><circle cx="234.7" cy="296.1" r="5.95" fill="#b8ff47"/><circle cx="249.0" cy="278.8" r="5.95" fill="#faff05"/><circle cx="256.1" cy="283.9" r="5.95" fill="#ffdb00"/><circle cx="260.2" cy="291.0" r="5.95" fill="#ffd100"/><circle cx="262.2" cy="298.1" r="5.95" fill="#ffdb00"/><circle cx="271.9" cy="276.3" r="5.95" fill="#e5ff1a"/><circle cx="280.5" cy="252.9" r="5.95" fill="#ffc700"/><circle cx="290.0" cy="265.0" r="5.95" fill="#4dffb2"/><circle cx="309.8" cy="279.8" r="5.95" fill="#009eff"/><circle cx="265.8" cy="314.0" r="5.95" fill="#ffb300"/><circle cx="293.9" cy="326.2" r="5.95" fill="#d1ff2e"/><circle cx="313.2" cy="341.3" r="5.95" fill="#05fffa"/><circle cx="329.2" cy="332.5" r="5.95" fill="#2effd1"/><circle cx="352.7" cy="267.1" r="5.95" fill="#ffc700"/><circle cx="373.3" cy="252.0" r="5.95" fill="#ffc700"/><circle cx="433.8" cy="271.4" r="5.95" fill="#ffc700"/><circle cx="436.6" cy="238.0" r="5.95" fill="#b3ff4c"/><circle cx="447.5" cy="213.8" r="5.95" fill="#80ff80"/><circle cx="450.7" cy="285.8" r="5.95" fill="#80ff80"/><circle cx="452.9" cy="258.0" r="5.95" fill="#bfff40"/><circle cx="469.8" cy="194.4" r="5.95" fill="#00d1ff"/><circle cx="467.3" cy="205.4" r="5.95" fill="#f8ff07"/><circle cx="474.0" cy="208.0" r="5.95" fill="#bfff40"/><circle cx="486.0" cy="212.2" r="5.95" fill="#8aff75"/><circle cx="497.0" cy="214.7" r="5.95" fill="#f8ff07"/><circle cx="508.0" cy="218.1" r="5.95" fill="#e5ff1a"/><circle cx="465.6" cy="224.0" r="5.95" fill="#fff200"/><circle cx="486.8" cy="222.0" r="5.95" fill="#ffcc00"/><circle cx="487.0" cy="228.0" r="5.95" fill="#ffb700"/><circle cx="458.0" cy="237.6" r="5.95" fill="#fff200"/><circle cx="470.7" cy="237.6" r="5.95" fill="#ff4c00"/><circle cx="485.0" cy="234.5" r="5.95" fill="#bfff40"/><circle cx="497.0" cy="237.6" r="5.95" fill="#ffcc00"/><circle cx="486.0" cy="242.7" r="5.95" fill="#e5ff1a"/><circle cx="492.7" cy="248.6" r="5.95" fill="#f8ff07"/><circle cx="525.8" cy="243.1" r="5.95" fill="#80ff80"/><circle cx="472.4" cy="252.0" r="5.95" fill="#74ff8b"/><circle cx="504.6" cy="251.2" r="5.95" fill="#4dffb2"/><circle cx="487.6" cy="264.0" r="5.95" fill="#fff200"/><circle cx="503.7" cy="261.4" r="5.95" fill="#ffde00"/><circle cx="508.0" cy="268.7" r="5.95" fill="#ffcc00"/><circle cx="520.7" cy="263.6" r="5.95" fill="#e5ff1a"/><circle cx="457.0" cy="275.5" r="5.95" fill="#fff200"/><circle cx="465.0" cy="278.0" r="5.95" fill="#f8ff07"/><circle cx="472.4" cy="273.4" r="5.95" fill="#fff200"/><circle cx="493.6" cy="270.7" r="5.95" fill="#8aff75"/><circle cx="513.0" cy="277.2" r="5.95" fill="#ff0f00"/><circle cx="540.2" cy="274.2" r="5.95" fill="#b3ff4c"/><circle cx="552.0" cy="288.8" r="5.95" fill="#38ffc7"/><circle cx="502.9" cy="285.4" r="5.95" fill="#fff200"/><circle cx="513.0" cy="291.4" r="5.95" fill="#ffcc00"/><circle cx="491.0" cy="293.0" r="5.95" fill="#f8ff07"/><circle cx="485.0" cy="297.3" r="5.95" fill="#f8ff07"/><circle cx="484.2" cy="305.8" r="5.95" fill="#ffcc00"/><circle cx="497.8" cy="302.4" r="5.95" fill="#74ff8b"/><circle cx="519.0" cy="302.4" r="5.95" fill="#ff0f00"/><circle cx="508.8" cy="309.2" r="5.95" fill="#9cff63"/><circle cx="527.5" cy="312.5" r="5.95" fill="#e5ff1a"/><circle cx="539.5" cy="318.5" r="5.95" fill="#abff54"/><circle cx="510.5" cy="321.0" r="5.95" fill="#ffde00"/><circle cx="499.7" cy="328.6" r="5.95" fill="#f8ff07"/><circle cx="482.7" cy="329.5" r="5.95" fill="#bfff40"/><circle cx="467.0" cy="323.0" r="5.95" fill="#d0ff2f"/><circle cx="442.9" cy="320.0" r="5.95" fill="#c7ff38"/><circle cx="457.5" cy="333.5" r="5.95" fill="#bfff40"/><circle cx="519.3" cy="332.0" r="5.95" fill="#ffcc00"/><circle cx="529.2" cy="326.1" r="5.95" fill="#ffde00"/><circle cx="514.7" cy="339.7" r="5.95" fill="#ffcc00"/><circle cx="530.6" cy="342.2" r="5.95" fill="#ffa400"/><circle cx="541.7" cy="334.2" r="5.95" fill="#bfff40"/><circle cx="547.0" cy="345.0" r="5.95" fill="#ffde00"/><circle cx="517.5" cy="347.8" r="5.95" fill="#ffb700"/><circle cx="527.8" cy="354.0" r="5.95" fill="#fff200"/><circle cx="511.8" cy="356.5" r="5.95" fill="#fff200"/><circle cx="497.6" cy="351.5" r="5.95" fill="#d0ff2f"/><circle cx="559.9" cy="352.8" r="5.95" fill="#05fffa"/><circle cx="541.5" cy="359.5" r="5.95" fill="#ffcc00"/><circle cx="546.5" cy="357.5" r="5.95" fill="#ffcc00"/><circle cx="582.0" cy="355.0" r="5.95" fill="#05fffa"/><circle cx="468.6" cy="360.1" r="5.95" fill="#80ff80"/><circle cx="499.2" cy="376.1" r="5.95" fill="#05fffa"/><circle cx="512.6" cy="386.6" r="5.95" fill="#0000e6"/><circle cx="451.5" cy="293.0" r="5.95" fill="#80ff80"/><circle cx="203.5" cy="273.0" r="5.95" fill="#ebff14"/><circle cx="456.0" cy="322.0" r="5.95" fill="#bfff40"/><circle cx="486.0" cy="281.0" r="5.95" fill="#8aff75"/><circle cx="456.5" cy="230.5" r="5.95" fill="#fff200"/><circle cx="464.5" cy="245.5" r="5.95" fill="#f8ff07"/><circle cx="480.0" cy="269.5" r="5.95" fill="#fff200"/><circle cx="505.0" cy="273.0" r="5.95" fill="#ffcc00"/><circle cx="497.0" cy="226.0" r="5.95" fill="#d0ff2f"/><circle cx="502.0" cy="233.0" r="5.95" fill="#f8ff07"/></g>
</g>
<g transform="translate(927.0 583.0)">
<use href="#edges"/>
<g><circle cx="155.9" cy="288.5" r="5.95" fill="#0007ff"/><circle cx="214.4" cy="280.8" r="5.95" fill="#002aff"/><circle cx="226.6" cy="278.8" r="5.95" fill="#002aff"/><circle cx="231.7" cy="269.2" r="5.95" fill="#009eff"/><circle cx="238.8" cy="278.8" r="5.95" fill="#001fff"/><circle cx="273.4" cy="266.6" r="5.95" fill="#bdff42"/><circle cx="414.2" cy="263.6" r="5.95" fill="#800000"/><circle cx="445.0" cy="240.8" r="5.95" fill="#0000eb"/><circle cx="513.0" cy="277.2" r="5.95" fill="#800000"/><circle cx="430.5" cy="312.0" r="5.95" fill="#0000e6"/><circle cx="263.0" cy="267.6" r="5.95" fill="#0007ff"/></g>
<use href="#cover"/>
<path d="M407.7 261.8L420.7 259.0M407.7 264.6L420.7 261.8M407.7 267.6L420.7 264.8M506.5 275.4L519.5 272.6M506.5 278.2L519.5 275.4M506.5 281.2L519.5 278.4" fill="none" stroke="#0a80d8" stroke-opacity="0.8" stroke-width="1.7"/>
<g><circle cx="20.7" cy="507.8" r="5.95" fill="#00009e"/><circle cx="62.4" cy="455.6" r="5.95" fill="#00009e"/><circle cx="76.3" cy="448.3" r="5.95" fill="#00009e"/><circle cx="127.5" cy="409.5" r="5.95" fill="#00009e"/><circle cx="116.6" cy="395.9" r="5.95" fill="#00009e"/><circle cx="131.4" cy="384.7" r="5.95" fill="#00009e"/><circle cx="160.2" cy="346.8" r="5.95" fill="#00009e"/><circle cx="161.9" cy="331.9" r="5.95" fill="#00009e"/><circle cx="209.3" cy="355.3" r="5.95" fill="#00009e"/><circle cx="218.6" cy="326.8" r="5.95" fill="#00009e"/><circle cx="215.4" cy="320.5" r="5.95" fill="#00009e"/><circle cx="174.2" cy="324.1" r="5.95" fill="#0019ff"/><circle cx="145.3" cy="288.0" r="5.95" fill="#006bff"/><circle cx="144.2" cy="297.6" r="5.95" fill="#005fff"/><circle cx="157.0" cy="300.2" r="5.95" fill="#006bff"/><circle cx="166.1" cy="293.6" r="5.95" fill="#0044ff"/><circle cx="177.8" cy="293.1" r="5.95" fill="#0086ff"/><circle cx="178.8" cy="301.2" r="5.95" fill="#0079ff"/><circle cx="177.8" cy="307.3" r="5.95" fill="#0086ff"/><circle cx="197.1" cy="276.8" r="5.95" fill="#0052ff"/><circle cx="191.0" cy="289.0" r="5.95" fill="#005fff"/><circle cx="201.2" cy="288.5" r="5.95" fill="#05fffa"/><circle cx="196.6" cy="300.2" r="5.95" fill="#0052ff"/><circle cx="190.0" cy="310.3" r="5.95" fill="#00009e"/><circle cx="210.3" cy="308.3" r="5.95" fill="#0044ff"/><circle cx="221.5" cy="291.0" r="5.95" fill="#1affe5"/><circle cx="234.7" cy="296.1" r="5.95" fill="#001fff"/><circle cx="249.0" cy="278.8" r="5.95" fill="#006bff"/><circle cx="256.1" cy="283.9" r="5.95" fill="#002aff"/><circle cx="260.2" cy="291.0" r="5.95" fill="#00b2ff"/><circle cx="262.2" cy="298.1" r="5.95" fill="#002aff"/><circle cx="271.9" cy="276.3" r="5.95" fill="#002aff"/><circle cx="280.5" cy="252.9" r="5.95" fill="#94ff6b"/><circle cx="290.0" cy="265.0" r="5.95" fill="#0000ec"/><circle cx="309.8" cy="279.8" r="5.95" fill="#0000d1"/><circle cx="265.8" cy="314.0" r="5.95" fill="#1affe5"/><circle cx="293.9" cy="326.2" r="5.95" fill="#00d1ff"/><circle cx="313.2" cy="341.3" r="5.95" fill="#00009e"/><circle cx="329.2" cy="332.5" r="5.95" fill="#00009e"/><circle cx="352.7" cy="267.1" r="5.95" fill="#05fffa"/><circle cx="373.3" cy="252.0" r="5.95" fill="#05fffa"/><circle cx="433.8" cy="271.4" r="5.95" fill="#1affe5"/><circle cx="436.6" cy="238.0" r="5.95" fill="#0085ff"/><circle cx="447.5" cy="213.8" r="5.95" fill="#0000d1"/><circle cx="450.7" cy="285.8" r="5.95" fill="#0000a8"/><circle cx="452.9" cy="258.0" r="5.95" fill="#0069ff"/><circle cx="469.8" cy="194.4" r="5.95" fill="#0000a8"/><circle cx="467.3" cy="205.4" r="5.95" fill="#00c7ff"/><circle cx="474.0" cy="208.0" r="5.95" fill="#0069ff"/><circle cx="486.0" cy="212.2" r="5.95" fill="#000fff"/><circle cx="497.0" cy="214.7" r="5.95" fill="#00c7ff"/><circle cx="508.0" cy="218.1" r="5.95" fill="#00a8ff"/><circle cx="465.6" cy="224.0" r="5.95" fill="#00e8ff"/><circle cx="486.8" cy="222.0" r="5.95" fill="#b3ff4c"/><circle cx="487.0" cy="228.0" r="5.95" fill="#80ff80"/><circle cx="458.0" cy="237.6" r="5.95" fill="#00e8ff"/><circle cx="470.7" cy="237.6" r="5.95" fill="#faff05"/><circle cx="485.0" cy="234.5" r="5.95" fill="#0069ff"/><circle cx="497.0" cy="237.6" r="5.95" fill="#29ffd6"/><circle cx="486.0" cy="242.7" r="5.95" fill="#00a8ff"/><circle cx="492.7" cy="248.6" r="5.95" fill="#00c7ff"/><circle cx="525.8" cy="243.1" r="5.95" fill="#000fff"/><circle cx="472.4" cy="252.0" r="5.95" fill="#0000eb"/><circle cx="504.6" cy="251.2" r="5.95" fill="#0000a8"/><circle cx="487.6" cy="264.0" r="5.95" fill="#00e8ff"/><circle cx="503.7" cy="261.4" r="5.95" fill="#0afff5"/><circle cx="508.0" cy="268.7" r="5.95" fill="#29ffd6"/><circle cx="520.7" cy="263.6" r="5.95" fill="#0000fa"/><circle cx="457.0" cy="275.5" r="5.95" fill="#b3ff4c"/><circle cx="465.0" cy="278.0" r="5.95" fill="#00c7ff"/><circle cx="472.4" cy="273.4" r="5.95" fill="#00e8ff"/><circle cx="493.6" cy="270.7" r="5.95" fill="#000fff"/><circle cx="540.2" cy="274.2" r="5.95" fill="#0080ff"/><circle cx="552.0" cy="288.8" r="5.95" fill="#000fff"/><circle cx="502.9" cy="285.4" r="5.95" fill="#00e8ff"/><circle cx="513.0" cy="291.4" r="5.95" fill="#ffdb00"/><circle cx="491.0" cy="293.0" r="5.95" fill="#00c7ff"/><circle cx="485.0" cy="297.3" r="5.95" fill="#00c7ff"/><circle cx="484.2" cy="305.8" r="5.95" fill="#b3ff4c"/><circle cx="497.8" cy="302.4" r="5.95" fill="#0000eb"/><circle cx="519.0" cy="302.4" r="5.95" fill="#ff8000"/><circle cx="508.8" cy="309.2" r="5.95" fill="#0000e6"/><circle cx="527.5" cy="312.5" r="5.95" fill="#00a8ff"/><circle cx="539.5" cy="318.5" r="5.95" fill="#0000bd"/><circle cx="510.5" cy="321.0" r="5.95" fill="#0afff5"/><circle cx="499.7" cy="328.6" r="5.95" fill="#00c7ff"/><circle cx="482.7" cy="329.5" r="5.95" fill="#0000e6"/><circle cx="467.0" cy="323.0" r="5.95" fill="#0000fa"/><circle cx="442.9" cy="320.0" r="5.95" fill="#004dff"/><circle cx="457.5" cy="333.5" r="5.95" fill="#0000fa"/><circle cx="519.3" cy="332.0" r="5.95" fill="#29ffd6"/><circle cx="529.2" cy="326.1" r="5.95" fill="#0afff5"/><circle cx="514.7" cy="339.7" r="5.95" fill="#29ffd6"/><circle cx="530.6" cy="342.2" r="5.95" fill="#6bff94"/><circle cx="541.7" cy="334.2" r="5.95" fill="#0000fa"/><circle cx="547.0" cy="345.0" r="5.95" fill="#0afff5"/><circle cx="517.5" cy="347.8" r="5.95" fill="#4cffb3"/><circle cx="527.8" cy="354.0" r="5.95" fill="#00e8ff"/><circle cx="511.8" cy="356.5" r="5.95" fill="#00e8ff"/><circle cx="497.6" cy="351.5" r="5.95" fill="#0085ff"/><circle cx="559.9" cy="352.8" r="5.95" fill="#0000b2"/><circle cx="541.5" cy="359.5" r="5.95" fill="#29ffd6"/><circle cx="546.5" cy="357.5" r="5.95" fill="#29ffd6"/><circle cx="582.0" cy="355.0" r="5.95" fill="#0000b2"/><circle cx="468.6" cy="360.1" r="5.95" fill="#0000e6"/><circle cx="499.2" cy="376.1" r="5.95" fill="#0000e6"/><circle cx="512.6" cy="386.6" r="5.95" fill="#0000a8"/><circle cx="451.5" cy="293.0" r="5.95" fill="#0000eb"/><circle cx="203.5" cy="273.0" r="5.95" fill="#0052ff"/><circle cx="456.0" cy="322.0" r="5.95" fill="#0069ff"/><circle cx="486.0" cy="281.0" r="5.95" fill="#0000e6"/><circle cx="456.5" cy="230.5" r="5.95" fill="#00e8ff"/><circle cx="464.5" cy="245.5" r="5.95" fill="#00c7ff"/><circle cx="480.0" cy="269.5" r="5.95" fill="#00e8ff"/><circle cx="505.0" cy="273.0" r="5.95" fill="#29ffd6"/><circle cx="497.0" cy="226.0" r="5.95" fill="#0085ff"/><circle cx="502.0" cy="233.0" r="5.95" fill="#00c7ff"/></g>
</g>
<g transform="translate(0.0 1166.0)">
<use href="#edges"/>
<g><circle cx="505.8" cy="294.0" r="5.95" fill="#000094"/><circle cx="520.4" cy="357.6" r="5.95" fill="#000094"/><circle cx="466.4" cy="211.6" r="5.95" fill="#000094"/><circle cx="485.5" cy="251.2" r="5.95" fill="#000094"/><circle cx="526.2" cy="337.9" r="5.95" fill="#000094"/><circle cx="461.0" cy="256.2" r="5.95" fill="#000094"/><circle cx="510.8" cy="334.9" r="5.95" fill="#000094"/><circle cx="499.4" cy="248.1" r="5.95" fill="#000094"/><circle cx="517.7" cy="324.1" r="5.95" fill="#000094"/><circle cx="479.8" cy="279.7" r="5.95" fill="#000094"/><circle cx="520.5" cy="317.6" r="5.95" fill="#000094"/><circle cx="517.9" cy="269.2" r="5.95" fill="#000094"/><circle cx="457.4" cy="222.6" r="5.95" fill="#000094"/><circle cx="512.3" cy="257.9" r="5.95" fill="#000094"/><circle cx="511.0" cy="243.1" r="5.95" fill="#000094"/><circle cx="478.5" cy="226.1" r="5.95" fill="#000094"/><circle cx="498.0" cy="259.5" r="5.95" fill="#000094"/><circle cx="525.8" cy="296.7" r="5.95" fill="#000094"/><circle cx="462.7" cy="262.4" r="5.95" fill="#000094"/><circle cx="459.1" cy="210.3" r="5.95" fill="#000094"/><circle cx="506.9" cy="301.6" r="5.95" fill="#000094"/><circle cx="503.2" cy="222.7" r="5.95" fill="#000094"/><circle cx="475.2" cy="261.1" r="5.95" fill="#000094"/><circle cx="474.1" cy="219.8" r="5.95" fill="#000094"/><circle cx="477.2" cy="245.9" r="5.95" fill="#000094"/><circle cx="520.1" cy="310.2" r="5.95" fill="#000094"/><circle cx="523.8" cy="348.9" r="5.95" fill="#000094"/><circle cx="537.1" cy="354.8" r="5.95" fill="#000094"/><circle cx="490.9" cy="235.9" r="5.95" fill="#000094"/><circle cx="483.4" cy="205.4" r="5.95" fill="#000094"/><circle cx="179.9" cy="285.2" r="5.95" fill="#000094"/><circle cx="186.4" cy="294.7" r="5.95" fill="#000094"/><circle cx="151.2" cy="284.0" r="5.95" fill="#000094"/><circle cx="214.3" cy="302.2" r="5.95" fill="#000094"/><circle cx="228.0" cy="305.7" r="5.95" fill="#000094"/><circle cx="189.9" cy="276.0" r="5.95" fill="#000094"/><circle cx="228.2" cy="292.9" r="5.95" fill="#000094"/><circle cx="231.6" cy="284.8" r="5.95" fill="#000094"/><circle cx="219.6" cy="308.4" r="5.95" fill="#000094"/><circle cx="263.7" cy="276.4" r="5.95" fill="#000094"/></g>
<g><circle cx="155.9" cy="288.5" r="5.95" fill="#00009f"/><circle cx="214.4" cy="280.8" r="5.95" fill="#0000a9"/><circle cx="226.6" cy="278.8" r="5.95" fill="#0000a9"/><circle cx="231.7" cy="269.2" r="5.95" fill="#0000cc"/><circle cx="238.8" cy="278.8" r="5.95" fill="#0000a6"/><circle cx="273.4" cy="266.6" r="5.95" fill="#0000cc"/><circle cx="414.2" cy="263.6" r="5.95" fill="#800000"/><circle cx="445.0" cy="240.8" r="5.95" fill="#000097"/><circle cx="430.5" cy="312.0" r="5.95" fill="#0000a2"/><circle cx="263.0" cy="267.6" r="5.95" fill="#00009f"/></g>
<use href="#cover"/>
<path d="M407.7 261.8L420.7 259.0M407.7 264.6L420.7 261.8M407.7 267.6L420.7 264.8" fill="none" stroke="#0a80d8" stroke-opacity="0.8" stroke-width="1.7"/>
<g><circle cx="20.7" cy="507.8" r="5.95" fill="#00009b"/><circle cx="62.4" cy="455.6" r="5.95" fill="#00009f"/><circle cx="76.3" cy="448.3" r="5.95" fill="#000097"/><circle cx="127.5" cy="409.5" r="5.95" fill="#00009f"/><circle cx="116.6" cy="395.9" r="5.95" fill="#004dff"/><circle cx="131.4" cy="384.7" r="5.95" fill="#00009b"/><circle cx="160.2" cy="346.8" r="5.95" fill="#00009f"/><circle cx="161.9" cy="331.9" r="5.95" fill="#000097"/><circle cx="209.3" cy="355.3" r="5.95" fill="#000097"/><circle cx="218.6" cy="326.8" r="5.95" fill="#00009b"/><circle cx="215.4" cy="320.5" r="5.95" fill="#00009b"/><circle cx="174.2" cy="324.1" r="5.95" fill="#0000b1"/><circle cx="145.3" cy="288.0" r="5.95" fill="#0000bd"/><circle cx="144.2" cy="297.6" r="5.95" fill="#0000b9"/><circle cx="157.0" cy="300.2" r="5.95" fill="#0000bd"/><circle cx="166.1" cy="293.6" r="5.95" fill="#0000b1"/><circle cx="177.8" cy="293.1" r="5.95" fill="#0000c5"/><circle cx="178.8" cy="301.2" r="5.95" fill="#0000c1"/><circle cx="177.8" cy="307.3" r="5.95" fill="#0000c5"/><circle cx="197.1" cy="276.8" r="5.95" fill="#0000b5"/><circle cx="191.0" cy="289.0" r="5.95" fill="#0000b9"/><circle cx="201.2" cy="288.5" r="5.95" fill="#0000c1"/><circle cx="196.6" cy="300.2" r="5.95" fill="#0000b5"/><circle cx="190.0" cy="310.3" r="5.95" fill="#000097"/><circle cx="210.3" cy="308.3" r="5.95" fill="#0000b1"/><circle cx="221.5" cy="291.0" r="5.95" fill="#0000c1"/><circle cx="234.7" cy="296.1" r="5.95" fill="#0000a6"/><circle cx="249.0" cy="278.8" r="5.95" fill="#0000bd"/><circle cx="256.1" cy="283.9" r="5.95" fill="#0000a9"/><circle cx="260.2" cy="291.0" r="5.95" fill="#0000b1"/><circle cx="262.2" cy="298.1" r="5.95" fill="#0000a9"/><circle cx="271.9" cy="276.3" r="5.95" fill="#0000a9"/><circle cx="280.5" cy="252.9" r="5.95" fill="#004dff"/><circle cx="290.0" cy="265.0" r="5.95" fill="#000097"/><circle cx="309.8" cy="279.8" r="5.95" fill="#00008f"/><circle cx="265.8" cy="314.0" r="5.95" fill="#2effd1"/><circle cx="293.9" cy="326.2" r="5.95" fill="#004dff"/><circle cx="313.2" cy="341.3" r="5.95" fill="#000097"/><circle cx="329.2" cy="332.5" r="5.95" fill="#000097"/><circle cx="352.7" cy="267.1" r="5.95" fill="#0005ff"/><circle cx="373.3" cy="252.0" r="5.95" fill="#0005ff"/><circle cx="433.8" cy="271.4" r="5.95" fill="#0005ff"/><circle cx="436.6" cy="238.0" r="5.95" fill="#0000a9"/><circle cx="447.5" cy="213.8" r="5.95" fill="#0000a6"/><circle cx="450.7" cy="285.8" r="5.95" fill="#00008f"/><circle cx="452.9" cy="258.0" r="5.95" fill="#0000a6"/><circle cx="469.8" cy="194.4" r="5.95" fill="#00008f"/><circle cx="467.3" cy="205.4" r="5.95" fill="#0000b1"/><circle cx="474.0" cy="208.0" r="5.95" fill="#0000a6"/><circle cx="486.0" cy="212.2" r="5.95" fill="#00009b"/><circle cx="497.0" cy="214.7" r="5.95" fill="#0000b1"/><circle cx="508.0" cy="218.1" r="5.95" fill="#0000ad"/><circle cx="465.6" cy="224.0" r="5.95" fill="#0000b5"/><circle cx="486.8" cy="222.0" r="5.95" fill="#0000bd"/><circle cx="487.0" cy="228.0" r="5.95" fill="#0000c1"/><circle cx="458.0" cy="237.6" r="5.95" fill="#0000b5"/><circle cx="470.7" cy="237.6" r="5.95" fill="#0019ff"/><circle cx="485.0" cy="234.5" r="5.95" fill="#0000a6"/><circle cx="497.0" cy="237.6" r="5.95" fill="#0000bd"/><circle cx="486.0" cy="242.7" r="5.95" fill="#0000ad"/><circle cx="492.7" cy="248.6" r="5.95" fill="#0000b1"/><circle cx="525.8" cy="243.1" r="5.95" fill="#00009b"/><circle cx="472.4" cy="252.0" r="5.95" fill="#000097"/><circle cx="504.6" cy="251.2" r="5.95" fill="#00008f"/><circle cx="487.6" cy="264.0" r="5.95" fill="#0000b5"/><circle cx="503.7" cy="261.4" r="5.95" fill="#0000b9"/><circle cx="508.0" cy="268.7" r="5.95" fill="#0000bd"/><circle cx="520.7" cy="263.6" r="5.95" fill="#0000ad"/><circle cx="457.0" cy="275.5" r="5.95" fill="#0000b5"/><circle cx="465.0" cy="278.0" r="5.95" fill="#0000b1"/><circle cx="472.4" cy="273.4" r="5.95" fill="#0000b5"/><circle cx="493.6" cy="270.7" r="5.95" fill="#00009b"/><circle cx="513.0" cy="277.2" r="5.95" fill="#0000fa"/><circle cx="540.2" cy="274.2" r="5.95" fill="#0000a6"/><circle cx="552.0" cy="288.8" r="5.95" fill="#00009b"/><circle cx="502.9" cy="285.4" r="5.95" fill="#0000b5"/><circle cx="513.0" cy="291.4" r="5.95" fill="#0000bd"/><circle cx="491.0" cy="293.0" r="5.95" fill="#0000b1"/><circle cx="485.0" cy="297.3" r="5.95" fill="#0000b1"/><circle cx="484.2" cy="305.8" r="5.95" fill="#0000bd"/><circle cx="497.8" cy="302.4" r="5.95" fill="#000097"/><circle cx="519.0" cy="302.4" r="5.95" fill="#0000fa"/><circle cx="508.8" cy="309.2" r="5.95" fill="#00009f"/><circle cx="527.5" cy="312.5" r="5.95" fill="#0000ad"/><circle cx="539.5" cy="318.5" r="5.95" fill="#0000a2"/><circle cx="510.5" cy="321.0" r="5.95" fill="#0000b9"/><circle cx="499.7" cy="328.6" r="5.95" fill="#0000b1"/><circle cx="482.7" cy="329.5" r="5.95" fill="#0000a6"/><circle cx="467.0" cy="323.0" r="5.95" fill="#0000a9"/><circle cx="442.9" cy="320.0" r="5.95" fill="#0000a9"/><circle cx="457.5" cy="333.5" r="5.95" fill="#0000a6"/><circle cx="519.3" cy="332.0" r="5.95" fill="#0000bd"/><circle cx="529.2" cy="326.1" r="5.95" fill="#0000b9"/><circle cx="514.7" cy="339.7" r="5.95" fill="#0000bd"/><circle cx="530.6" cy="342.2" r="5.95" fill="#0000c5"/><circle cx="541.7" cy="334.2" r="5.95" fill="#0000a6"/><circle cx="547.0" cy="345.0" r="5.95" fill="#0000b9"/><circle cx="517.5" cy="347.8" r="5.95" fill="#0000c1"/><circle cx="527.8" cy="354.0" r="5.95" fill="#0000b5"/><circle cx="511.8" cy="356.5" r="5.95" fill="#0000b5"/><circle cx="497.6" cy="351.5" r="5.95" fill="#0000a9"/><circle cx="559.9" cy="352.8" r="5.95" fill="#00009f"/><circle cx="541.5" cy="359.5" r="5.95" fill="#0000bd"/><circle cx="546.5" cy="357.5" r="5.95" fill="#0000bd"/><circle cx="582.0" cy="355.0" r="5.95" fill="#0000a2"/><circle cx="468.6" cy="360.1" r="5.95" fill="#0000a6"/><circle cx="499.2" cy="376.1" r="5.95" fill="#0000a2"/><circle cx="512.6" cy="386.6" r="5.95" fill="#00008f"/><circle cx="451.5" cy="293.0" r="5.95" fill="#000097"/><circle cx="203.5" cy="273.0" r="5.95" fill="#0000b5"/><circle cx="456.0" cy="322.0" r="5.95" fill="#0000a6"/><circle cx="486.0" cy="281.0" r="5.95" fill="#00009b"/><circle cx="456.5" cy="230.5" r="5.95" fill="#0000b5"/><circle cx="464.5" cy="245.5" r="5.95" fill="#0000b1"/><circle cx="480.0" cy="269.5" r="5.95" fill="#0000b5"/><circle cx="505.0" cy="273.0" r="5.95" fill="#0000bd"/><circle cx="497.0" cy="226.0" r="5.95" fill="#0000a9"/><circle cx="502.0" cy="233.0" r="5.95" fill="#0000b1"/></g>
</g>
<g transform="translate(927.0 1166.0)">
<use href="#edges"/>
<g><circle cx="155.9" cy="288.5" r="5.95" fill="#0082ff"/><circle cx="214.4" cy="280.8" r="5.95" fill="#2bffd4"/><circle cx="226.6" cy="278.8" r="5.95" fill="#2bffd4"/><circle cx="231.7" cy="269.2" r="5.95" fill="#9e0000"/><circle cx="238.8" cy="278.8" r="5.95" fill="#00f4ff"/><circle cx="273.4" cy="266.6" r="5.95" fill="#9e0000"/><circle cx="445.0" cy="240.8" r="5.95" fill="#0001ff"/><circle cx="430.5" cy="312.0" r="5.95" fill="#00b3ff"/><circle cx="263.0" cy="267.6" r="5.95" fill="#0082ff"/></g>
<use href="#cover"/>
<g><circle cx="20.7" cy="507.8" r="5.95" fill="#0046ff"/><circle cx="62.4" cy="455.6" r="5.95" fill="#0082ff"/><circle cx="76.3" cy="448.3" r="5.95" fill="#0001ff"/><circle cx="127.5" cy="409.5" r="5.95" fill="#0082ff"/><circle cx="116.6" cy="395.9" r="5.95" fill="#0082ff"/><circle cx="131.4" cy="384.7" r="5.95" fill="#0046ff"/><circle cx="160.2" cy="346.8" r="5.95" fill="#0082ff"/><circle cx="161.9" cy="331.9" r="5.95" fill="#0001ff"/><circle cx="209.3" cy="355.3" r="5.95" fill="#0001ff"/><circle cx="218.6" cy="326.8" r="5.95" fill="#0046ff"/><circle cx="215.4" cy="320.5" r="5.95" fill="#0046ff"/><circle cx="174.2" cy="324.1" r="5.95" fill="#acff53"/><circle cx="145.3" cy="288.0" r="5.95" fill="#ff9600"/><circle cx="144.2" cy="297.6" r="5.95" fill="#ffd200"/><circle cx="157.0" cy="300.2" r="5.95" fill="#ff9600"/><circle cx="166.1" cy="293.6" r="5.95" fill="#acff53"/><circle cx="177.8" cy="293.1" r="5.95" fill="#ff1600"/><circle cx="178.8" cy="301.2" r="5.95" fill="#ff5100"/><circle cx="177.8" cy="307.3" r="5.95" fill="#ff1600"/><circle cx="197.1" cy="276.8" r="5.95" fill="#ecff13"/><circle cx="191.0" cy="289.0" r="5.95" fill="#ffd200"/><circle cx="201.2" cy="288.5" r="5.95" fill="#ff5100"/><circle cx="196.6" cy="300.2" r="5.95" fill="#ecff13"/><circle cx="190.0" cy="310.3" r="5.95" fill="#0001ff"/><circle cx="210.3" cy="308.3" r="5.95" fill="#acff53"/><circle cx="221.5" cy="291.0" r="5.95" fill="#ff5100"/><circle cx="234.7" cy="296.1" r="5.95" fill="#00f4ff"/><circle cx="249.0" cy="278.8" r="5.95" fill="#ff9600"/><circle cx="256.1" cy="283.9" r="5.95" fill="#2bffd4"/><circle cx="260.2" cy="291.0" r="5.95" fill="#acff53"/><circle cx="262.2" cy="298.1" r="5.95" fill="#2bffd4"/><circle cx="271.9" cy="276.3" r="5.95" fill="#2bffd4"/><circle cx="280.5" cy="252.9" r="5.95" fill="#9e0000"/><circle cx="290.0" cy="265.0" r="5.95" fill="#0001ff"/><circle cx="309.8" cy="279.8" r="5.95" fill="#000080"/><circle cx="265.8" cy="314.0" r="5.95" fill="#ff9600"/><circle cx="293.9" cy="326.2" r="5.95" fill="#ffd200"/><circle cx="313.2" cy="341.3" r="5.95" fill="#0001ff"/><circle cx="329.2" cy="332.5" r="5.95" fill="#0001ff"/><circle cx="352.7" cy="267.1" r="5.95" fill="#acff53"/><circle cx="373.3" cy="252.0" r="5.95" fill="#acff53"/><circle cx="414.2" cy="263.6" r="5.95" fill="#ff8000"/><circle cx="433.8" cy="271.4" r="5.95" fill="#ecff13"/><circle cx="436.6" cy="238.0" r="5.95" fill="#2bffd4"/><circle cx="447.5" cy="213.8" r="5.95" fill="#00f4ff"/><circle cx="450.7" cy="285.8" r="5.95" fill="#000080"/><circle cx="452.9" cy="258.0" r="5.95" fill="#00f4ff"/><circle cx="469.8" cy="194.4" r="5.95" fill="#000080"/><circle cx="467.3" cy="205.4" r="5.95" fill="#acff53"/><circle cx="474.0" cy="208.0" r="5.95" fill="#00f4ff"/><circle cx="486.0" cy="212.2" r="5.95" fill="#0046ff"/><circle cx="497.0" cy="214.7" r="5.95" fill="#acff53"/><circle cx="508.0" cy="218.1" r="5.95" fill="#70ff8f"/><circle cx="465.6" cy="224.0" r="5.95" fill="#ecff13"/><circle cx="486.8" cy="222.0" r="5.95" fill="#ff9600"/><circle cx="487.0" cy="228.0" r="5.95" fill="#ff5100"/><circle cx="458.0" cy="237.6" r="5.95" fill="#ecff13"/><circle cx="470.7" cy="237.6" r="5.95" fill="#ff9600"/><circle cx="485.0" cy="234.5" r="5.95" fill="#00f4ff"/><circle cx="497.0" cy="237.6" r="5.95" fill="#ff9600"/><circle cx="486.0" cy="242.7" r="5.95" fill="#70ff8f"/><circle cx="492.7" cy="248.6" r="5.95" fill="#acff53"/><circle cx="525.8" cy="243.1" r="5.95" fill="#0046ff"/><circle cx="472.4" cy="252.0" r="5.95" fill="#0001ff"/><circle cx="504.6" cy="251.2" r="5.95" fill="#000080"/><circle cx="487.6" cy="264.0" r="5.95" fill="#ecff13"/><circle cx="503.7" cy="261.4" r="5.95" fill="#ffd200"/><circle cx="508.0" cy="268.7" r="5.95" fill="#ff9600"/><circle cx="520.7" cy="263.6" r="5.95" fill="#70ff8f"/><circle cx="457.0" cy="275.5" r="5.95" fill="#ecff13"/><circle cx="465.0" cy="278.0" r="5.95" fill="#acff53"/><circle cx="472.4" cy="273.4" r="5.95" fill="#ecff13"/><circle cx="493.6" cy="270.7" r="5.95" fill="#0046ff"/><circle cx="513.0" cy="277.2" r="5.95" fill="#ff1600"/><circle cx="540.2" cy="274.2" r="5.95" fill="#00f4ff"/><circle cx="552.0" cy="288.8" r="5.95" fill="#0046ff"/><circle cx="502.9" cy="285.4" r="5.95" fill="#ecff13"/><circle cx="513.0" cy="291.4" r="5.95" fill="#ff9600"/><circle cx="491.0" cy="293.0" r="5.95" fill="#acff53"/><circle cx="485.0" cy="297.3" r="5.95" fill="#acff53"/><circle cx="484.2" cy="305.8" r="5.95" fill="#ff9600"/><circle cx="497.8" cy="302.4" r="5.95" fill="#0001ff"/><circle cx="519.0" cy="302.4" r="5.95" fill="#ff5100"/><circle cx="508.8" cy="309.2" r="5.95" fill="#0082ff"/><circle cx="527.5" cy="312.5" r="5.95" fill="#70ff8f"/><circle cx="539.5" cy="318.5" r="5.95" fill="#00b3ff"/><circle cx="510.5" cy="321.0" r="5.95" fill="#ffd200"/><circle cx="499.7" cy="328.6" r="5.95" fill="#acff53"/><circle cx="482.7" cy="329.5" r="5.95" fill="#00f4ff"/><circle cx="467.0" cy="323.0" r="5.95" fill="#2bffd4"/><circle cx="442.9" cy="320.0" r="5.95" fill="#2bffd4"/><circle cx="457.5" cy="333.5" r="5.95" fill="#00f4ff"/><circle cx="519.3" cy="332.0" r="5.95" fill="#ff9600"/><circle cx="529.2" cy="326.1" r="5.95" fill="#ffd200"/><circle cx="514.7" cy="339.7" r="5.95" fill="#ff9600"/><circle cx="530.6" cy="342.2" r="5.95" fill="#ff1600"/><circle cx="541.7" cy="334.2" r="5.95" fill="#00f4ff"/><circle cx="547.0" cy="345.0" r="5.95" fill="#ffd200"/><circle cx="517.5" cy="347.8" r="5.95" fill="#ff5100"/><circle cx="527.8" cy="354.0" r="5.95" fill="#ecff13"/><circle cx="511.8" cy="356.5" r="5.95" fill="#ecff13"/><circle cx="497.6" cy="351.5" r="5.95" fill="#2bffd4"/><circle cx="559.9" cy="352.8" r="5.95" fill="#0082ff"/><circle cx="541.5" cy="359.5" r="5.95" fill="#ff9600"/><circle cx="546.5" cy="357.5" r="5.95" fill="#ff9600"/><circle cx="582.0" cy="355.0" r="5.95" fill="#00b3ff"/><circle cx="468.6" cy="360.1" r="5.95" fill="#00f4ff"/><circle cx="499.2" cy="376.1" r="5.95" fill="#00b3ff"/><circle cx="512.6" cy="386.6" r="5.95" fill="#000080"/><circle cx="451.5" cy="293.0" r="5.95" fill="#0001ff"/><circle cx="203.5" cy="273.0" r="5.95" fill="#ecff13"/><circle cx="456.0" cy="322.0" r="5.95" fill="#00f4ff"/><circle cx="486.0" cy="281.0" r="5.95" fill="#0046ff"/><circle cx="456.5" cy="230.5" r="5.95" fill="#ecff13"/><circle cx="464.5" cy="245.5" r="5.95" fill="#acff53"/><circle cx="480.0" cy="269.5" r="5.95" fill="#ecff13"/><circle cx="505.0" cy="273.0" r="5.95" fill="#ff9600"/><circle cx="497.0" cy="226.0" r="5.95" fill="#2bffd4"/><circle cx="502.0" cy="233.0" r="5.95" fill="#acff53"/></g>
</g>
</g>
<g><use href="#cbar" x="0.0" y="0.0"/><use href="#cbar" x="927.0" y="0.0"/><use href="#cbar" x="0.0" y="583.0"/><use href="#cbar" x="927.0" y="583.0"/><use href="#cbar" x="0.0" y="1166.0"/><use href="#cbar" x="927.0" y="1166.0"/></g>
<g filter="url(#tsoft)"><text transform="translate(868.6 44.9) scale(0.975 1)" font-size="60" text-anchor="middle" fill="#000">Jazz</text>
<text transform="translate(302.3 130.2) scale(1.033 1)" font-size="41.3" text-anchor="middle" fill="#000">Gravity model</text>
<text transform="translate(788.9 574.0) scale(0.97 1)" font-size="39.5" fill="#262626">0</text>
<text transform="translate(788.9 491.3) scale(0.97 1)" font-size="39.5" fill="#262626">0.2</text>
<text transform="translate(788.9 408.6) scale(0.97 1)" font-size="39.5" fill="#262626">0.4</text>
<text transform="translate(788.9 326.0) scale(0.97 1)" font-size="39.5" fill="#262626">0.6</text>
<text transform="translate(788.9 243.3) scale(0.97 1)" font-size="39.5" fill="#262626">0.8</text>
<text transform="translate(788.9 160.6) scale(0.97 1)" font-size="39.5" fill="#262626">1</text>
<text transform="translate(1229.4 130.2) scale(1.033 1)" font-size="41.3" text-anchor="middle" fill="#000">Weighted gravity model</text>
<text transform="translate(1715.9 574.0) scale(0.97 1)" font-size="39.5" fill="#262626">0</text>
<text transform="translate(1715.9 491.3) scale(0.97 1)" font-size="39.5" fill="#262626">0.2</text>
<text transform="translate(1715.9 408.6) scale(0.97 1)" font-size="39.5" fill="#262626">0.4</text>
<text transform="translate(1715.9 326.0) scale(0.97 1)" font-size="39.5" fill="#262626">0.6</text>
<text transform="translate(1715.9 243.3) scale(0.97 1)" font-size="39.5" fill="#262626">0.8</text>
<text transform="translate(1715.9 160.6) scale(0.97 1)" font-size="39.5" fill="#262626">1</text>
<text transform="translate(303.0 713.2) scale(1.033 1)" font-size="41.3" text-anchor="middle" fill="#000">CC</text>
<text transform="translate(788.9 1157.0) scale(0.97 1)" font-size="39.5" fill="#262626">0</text>
<text transform="translate(788.9 1074.3) scale(0.97 1)" font-size="39.5" fill="#262626">0.2</text>
<text transform="translate(788.9 991.6) scale(0.97 1)" font-size="39.5" fill="#262626">0.4</text>
<text transform="translate(788.9 909.0) scale(0.97 1)" font-size="39.5" fill="#262626">0.6</text>
<text transform="translate(788.9 826.3) scale(0.97 1)" font-size="39.5" fill="#262626">0.8</text>
<text transform="translate(788.9 743.6) scale(0.97 1)" font-size="39.5" fill="#262626">1</text>
<text transform="translate(1230.0 713.2) scale(1.033 1)" font-size="41.3" text-anchor="middle" fill="#000">DC</text>
<text transform="translate(1715.9 1157.0) scale(0.97 1)" font-size="39.5" fill="#262626">0</text>
<text transform="translate(1715.9 1074.3) scale(0.97 1)" font-size="39.5" fill="#262626">0.2</text>
<text transform="translate(1715.9 991.6) scale(0.97 1)" font-size="39.5" fill="#262626">0.4</text>
<text transform="translate(1715.9 909.0) scale(0.97 1)" font-size="39.5" fill="#262626">0.6</text>
<text transform="translate(1715.9 826.3) scale(0.97 1)" font-size="39.5" fill="#262626">0.8</text>
<text transform="translate(1715.9 743.6) scale(0.97 1)" font-size="39.5" fill="#262626">1</text>
<text transform="translate(303.0 1296.2) scale(1.033 1)" font-size="41.3" text-anchor="middle" fill="#000">BC</text>
<text transform="translate(788.9 1740.0) scale(0.97 1)" font-size="39.5" fill="#262626">0</text>
<text transform="translate(788.9 1657.3) scale(0.97 1)" font-size="39.5" fill="#262626">0.2</text>
<text transform="translate(788.9 1574.6) scale(0.97 1)" font-size="39.5" fill="#262626">0.4</text>
<text transform="translate(788.9 1492.0) scale(0.97 1)" font-size="39.5" fill="#262626">0.6</text>
<text transform="translate(788.9 1409.3) scale(0.97 1)" font-size="39.5" fill="#262626">0.8</text>
<text transform="translate(788.9 1326.6) scale(0.97 1)" font-size="39.5" fill="#262626">1</text>
<text transform="translate(1229.3 1296.2) scale(1.033 1)" font-size="41.3" text-anchor="middle" fill="#000">new model</text>
<text transform="translate(1715.9 1740.0) scale(0.97 1)" font-size="39.5" fill="#262626">0</text>
<text transform="translate(1715.9 1657.3) scale(0.97 1)" font-size="39.5" fill="#262626">0.2</text>
<text transform="translate(1715.9 1574.6) scale(0.97 1)" font-size="39.5" fill="#262626">0.4</text>
<text transform="translate(1715.9 1492.0) scale(0.97 1)" font-size="39.5" fill="#262626">0.6</text>
<text transform="translate(1715.9 1409.3) scale(0.97 1)" font-size="39.5" fill="#262626">0.8</text>
<text transform="translate(1715.9 1326.6) scale(0.97 1)" font-size="39.5" fill="#262626">1</text></g>
</svg></body></html>
